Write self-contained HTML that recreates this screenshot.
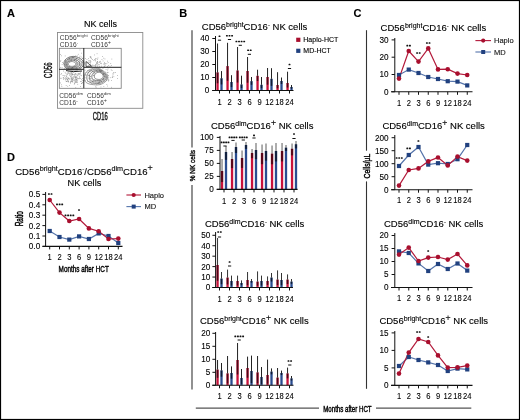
<!DOCTYPE html>
<html><head><meta charset="utf-8"><style>
html,body{margin:0;padding:0;background:#fff;}
svg{display:block;font-family:"Liberation Sans", sans-serif;will-change:transform;transform:translateZ(0);}
text{stroke:#000;stroke-width:0.12px;}
text.t{stroke-width:0.1px;}
</style></head><body>
<svg width="520" height="420" viewBox="0 0 520 420">
<rect width="520" height="420" fill="#fff"/>
<rect x="0.55" y="0.55" width="518.9" height="418.9" fill="none" stroke="#000" stroke-width="1.1"/>
<text x="7" y="16.5" font-size="11" text-anchor="start" font-weight="bold" fill="#000" >A</text>
<text x="179.3" y="16.5" font-size="11" text-anchor="start" font-weight="bold" fill="#000" >B</text>
<text x="353.5" y="16.5" font-size="11" text-anchor="start" font-weight="bold" fill="#000" >C</text>
<text x="7" y="161" font-size="11" text-anchor="start" font-weight="bold" fill="#000" >D</text>
<text x="84" y="27.2" font-size="9" text-anchor="start" font-weight="normal" fill="#000" >NK cells</text>
<rect x="57.5" y="32.5" width="85.3" height="75.8" fill="none" stroke="#8a8a8a" stroke-width="0.9"/>
<rect x="70.2" y="65.6" width="0.7" height="0.7" fill="#888"/>
<rect x="70.4" y="61.4" width="0.7" height="0.7" fill="#888"/>
<rect x="65.5" y="61.9" width="0.7" height="0.7" fill="#888"/>
<rect x="79.8" y="65.1" width="0.7" height="0.7" fill="#888"/>
<rect x="79.3" y="64.2" width="0.7" height="0.7" fill="#888"/>
<rect x="74.8" y="63.9" width="0.7" height="0.7" fill="#888"/>
<rect x="60.3" y="67.3" width="0.7" height="0.7" fill="#888"/>
<rect x="75.5" y="65.5" width="0.7" height="0.7" fill="#888"/>
<rect x="60.2" y="54.3" width="0.7" height="0.7" fill="#888"/>
<rect x="65.8" y="60.7" width="0.7" height="0.7" fill="#888"/>
<rect x="74.1" y="62.8" width="0.7" height="0.7" fill="#888"/>
<rect x="75.6" y="59.8" width="0.7" height="0.7" fill="#888"/>
<rect x="74.2" y="65.0" width="0.7" height="0.7" fill="#888"/>
<rect x="75.9" y="69.0" width="0.7" height="0.7" fill="#888"/>
<rect x="67.7" y="59.3" width="0.7" height="0.7" fill="#888"/>
<rect x="69.6" y="62.5" width="0.7" height="0.7" fill="#888"/>
<rect x="76.4" y="64.2" width="0.7" height="0.7" fill="#888"/>
<rect x="68.9" y="58.2" width="0.7" height="0.7" fill="#888"/>
<rect x="66.3" y="64.2" width="0.7" height="0.7" fill="#888"/>
<rect x="75.0" y="55.6" width="0.7" height="0.7" fill="#888"/>
<rect x="71.3" y="58.9" width="0.7" height="0.7" fill="#888"/>
<rect x="75.5" y="62.7" width="0.7" height="0.7" fill="#888"/>
<rect x="61.7" y="67.1" width="0.7" height="0.7" fill="#888"/>
<rect x="76.7" y="67.7" width="0.7" height="0.7" fill="#888"/>
<rect x="82.1" y="64.8" width="0.7" height="0.7" fill="#888"/>
<rect x="72.8" y="56.5" width="0.7" height="0.7" fill="#888"/>
<rect x="76.3" y="59.9" width="0.7" height="0.7" fill="#888"/>
<rect x="68.8" y="56.7" width="0.7" height="0.7" fill="#888"/>
<rect x="65.2" y="60.3" width="0.7" height="0.7" fill="#888"/>
<rect x="81.0" y="52.8" width="0.7" height="0.7" fill="#888"/>
<rect x="61.8" y="64.2" width="0.7" height="0.7" fill="#888"/>
<rect x="82.1" y="65.9" width="0.7" height="0.7" fill="#888"/>
<rect x="74.5" y="59.3" width="0.7" height="0.7" fill="#888"/>
<rect x="64.2" y="67.9" width="0.7" height="0.7" fill="#888"/>
<rect x="79.7" y="63.8" width="0.7" height="0.7" fill="#888"/>
<rect x="73.7" y="65.2" width="0.7" height="0.7" fill="#888"/>
<rect x="83.2" y="66.1" width="0.7" height="0.7" fill="#888"/>
<rect x="75.6" y="65.7" width="0.7" height="0.7" fill="#888"/>
<rect x="78.7" y="65.6" width="0.7" height="0.7" fill="#888"/>
<rect x="77.9" y="53.9" width="0.7" height="0.7" fill="#888"/>
<rect x="70.7" y="68.1" width="0.7" height="0.7" fill="#888"/>
<rect x="75.9" y="62.2" width="0.7" height="0.7" fill="#888"/>
<rect x="74.3" y="66.2" width="0.7" height="0.7" fill="#888"/>
<rect x="72.8" y="68.7" width="0.7" height="0.7" fill="#888"/>
<rect x="67.4" y="60.9" width="0.7" height="0.7" fill="#888"/>
<rect x="79.3" y="63.1" width="0.7" height="0.7" fill="#888"/>
<rect x="65.8" y="67.7" width="0.7" height="0.7" fill="#888"/>
<rect x="82.3" y="60.8" width="0.7" height="0.7" fill="#888"/>
<rect x="62.3" y="62.3" width="0.7" height="0.7" fill="#888"/>
<rect x="71.0" y="61.5" width="0.7" height="0.7" fill="#888"/>
<rect x="81.8" y="57.9" width="0.7" height="0.7" fill="#888"/>
<rect x="80.8" y="56.7" width="0.7" height="0.7" fill="#888"/>
<rect x="66.5" y="66.2" width="0.7" height="0.7" fill="#888"/>
<rect x="79.9" y="67.3" width="0.7" height="0.7" fill="#888"/>
<rect x="74.4" y="63.7" width="0.7" height="0.7" fill="#888"/>
<rect x="73.1" y="65.9" width="0.7" height="0.7" fill="#888"/>
<rect x="70.8" y="64.4" width="0.7" height="0.7" fill="#888"/>
<rect x="76.0" y="63.0" width="0.7" height="0.7" fill="#888"/>
<rect x="77.3" y="65.8" width="0.7" height="0.7" fill="#888"/>
<rect x="69.0" y="61.1" width="0.7" height="0.7" fill="#888"/>
<rect x="71.9" y="67.6" width="0.7" height="0.7" fill="#888"/>
<rect x="69.6" y="64.9" width="0.7" height="0.7" fill="#888"/>
<rect x="64.1" y="64.2" width="0.7" height="0.7" fill="#888"/>
<rect x="74.8" y="64.2" width="0.7" height="0.7" fill="#888"/>
<rect x="69.0" y="66.3" width="0.7" height="0.7" fill="#888"/>
<rect x="74.0" y="60.4" width="0.7" height="0.7" fill="#888"/>
<rect x="68.1" y="62.5" width="0.7" height="0.7" fill="#888"/>
<rect x="70.4" y="62.7" width="0.7" height="0.7" fill="#888"/>
<rect x="79.1" y="57.2" width="0.7" height="0.7" fill="#888"/>
<rect x="71.5" y="67.8" width="0.7" height="0.7" fill="#888"/>
<rect x="60.1" y="61.2" width="0.7" height="0.7" fill="#888"/>
<rect x="69.6" y="66.1" width="0.7" height="0.7" fill="#888"/>
<rect x="79.6" y="49.6" width="0.7" height="0.7" fill="#888"/>
<rect x="79.6" y="55.8" width="0.7" height="0.7" fill="#888"/>
<rect x="76.8" y="55.5" width="0.7" height="0.7" fill="#888"/>
<rect x="73.2" y="69.0" width="0.7" height="0.7" fill="#888"/>
<rect x="71.0" y="64.0" width="0.7" height="0.7" fill="#888"/>
<rect x="77.6" y="63.7" width="0.7" height="0.7" fill="#888"/>
<rect x="79.3" y="61.5" width="0.7" height="0.7" fill="#888"/>
<rect x="78.4" y="61.7" width="0.7" height="0.7" fill="#888"/>
<rect x="72.9" y="66.5" width="0.7" height="0.7" fill="#888"/>
<rect x="73.6" y="66.2" width="0.7" height="0.7" fill="#888"/>
<rect x="61.3" y="55.5" width="0.7" height="0.7" fill="#888"/>
<rect x="76.3" y="58.2" width="0.7" height="0.7" fill="#888"/>
<rect x="64.8" y="55.6" width="0.7" height="0.7" fill="#888"/>
<rect x="80.9" y="66.7" width="0.7" height="0.7" fill="#888"/>
<rect x="82.3" y="58.3" width="0.7" height="0.7" fill="#888"/>
<rect x="72.0" y="57.3" width="0.7" height="0.7" fill="#888"/>
<rect x="78.9" y="62.1" width="0.7" height="0.7" fill="#888"/>
<rect x="71.3" y="60.0" width="0.7" height="0.7" fill="#888"/>
<rect x="74.8" y="65.0" width="0.7" height="0.7" fill="#888"/>
<rect x="82.5" y="57.9" width="0.7" height="0.7" fill="#888"/>
<rect x="82.2" y="62.1" width="0.7" height="0.7" fill="#888"/>
<rect x="66.8" y="68.1" width="0.7" height="0.7" fill="#888"/>
<rect x="72.8" y="63.6" width="0.7" height="0.7" fill="#888"/>
<rect x="82.0" y="61.7" width="0.7" height="0.7" fill="#888"/>
<rect x="74.2" y="59.9" width="0.7" height="0.7" fill="#888"/>
<rect x="71.9" y="67.2" width="0.7" height="0.7" fill="#888"/>
<rect x="71.6" y="68.2" width="0.7" height="0.7" fill="#888"/>
<rect x="67.3" y="67.4" width="0.7" height="0.7" fill="#888"/>
<rect x="63.4" y="62.9" width="0.7" height="0.7" fill="#888"/>
<rect x="70.7" y="62.9" width="0.7" height="0.7" fill="#888"/>
<rect x="67.9" y="64.2" width="0.7" height="0.7" fill="#888"/>
<rect x="75.7" y="68.0" width="0.7" height="0.7" fill="#888"/>
<rect x="70.6" y="56.7" width="0.7" height="0.7" fill="#888"/>
<rect x="68.1" y="68.4" width="0.7" height="0.7" fill="#888"/>
<rect x="60.5" y="60.0" width="0.7" height="0.7" fill="#888"/>
<rect x="79.1" y="67.0" width="0.7" height="0.7" fill="#888"/>
<rect x="72.1" y="67.0" width="0.7" height="0.7" fill="#888"/>
<rect x="73.2" y="57.1" width="0.7" height="0.7" fill="#888"/>
<rect x="62.6" y="75.1" width="0.7" height="0.7" fill="#888"/>
<rect x="77.5" y="75.5" width="0.7" height="0.7" fill="#888"/>
<rect x="66.6" y="74.5" width="0.7" height="0.7" fill="#888"/>
<rect x="62.8" y="77.5" width="0.7" height="0.7" fill="#888"/>
<rect x="64.9" y="79.6" width="0.7" height="0.7" fill="#888"/>
<rect x="76.3" y="76.8" width="0.7" height="0.7" fill="#888"/>
<rect x="73.7" y="75.9" width="0.7" height="0.7" fill="#888"/>
<rect x="76.7" y="81.4" width="0.7" height="0.7" fill="#888"/>
<rect x="76.0" y="79.5" width="0.7" height="0.7" fill="#888"/>
<rect x="80.0" y="81.0" width="0.7" height="0.7" fill="#888"/>
<rect x="77.4" y="83.9" width="0.7" height="0.7" fill="#888"/>
<rect x="70.2" y="75.9" width="0.7" height="0.7" fill="#888"/>
<rect x="66.4" y="81.1" width="0.7" height="0.7" fill="#888"/>
<rect x="75.4" y="82.1" width="0.7" height="0.7" fill="#888"/>
<rect x="66.6" y="77.6" width="0.7" height="0.7" fill="#888"/>
<rect x="73.8" y="81.7" width="0.7" height="0.7" fill="#888"/>
<rect x="71.8" y="77.1" width="0.7" height="0.7" fill="#888"/>
<rect x="65.9" y="76.4" width="0.7" height="0.7" fill="#888"/>
<rect x="77.4" y="78.5" width="0.7" height="0.7" fill="#888"/>
<rect x="66.9" y="74.2" width="0.7" height="0.7" fill="#888"/>
<rect x="75.7" y="80.2" width="0.7" height="0.7" fill="#888"/>
<rect x="82.1" y="79.9" width="0.7" height="0.7" fill="#888"/>
<rect x="71.6" y="80.4" width="0.7" height="0.7" fill="#888"/>
<rect x="60.3" y="82.6" width="0.7" height="0.7" fill="#888"/>
<rect x="73.9" y="74.8" width="0.7" height="0.7" fill="#888"/>
<rect x="80.0" y="86.1" width="0.7" height="0.7" fill="#888"/>
<rect x="63.6" y="75.0" width="0.7" height="0.7" fill="#888"/>
<rect x="73.7" y="78.8" width="0.7" height="0.7" fill="#888"/>
<rect x="69.6" y="73.6" width="0.7" height="0.7" fill="#888"/>
<rect x="64.8" y="71.9" width="0.7" height="0.7" fill="#888"/>
<rect x="82.2" y="82.5" width="0.7" height="0.7" fill="#888"/>
<rect x="82.9" y="81.6" width="0.7" height="0.7" fill="#888"/>
<rect x="66.8" y="79.2" width="0.7" height="0.7" fill="#888"/>
<rect x="71.6" y="80.4" width="0.7" height="0.7" fill="#888"/>
<rect x="67.6" y="77.4" width="0.7" height="0.7" fill="#888"/>
<rect x="74.8" y="79.7" width="0.7" height="0.7" fill="#888"/>
<rect x="75.8" y="78.9" width="0.7" height="0.7" fill="#888"/>
<rect x="70.1" y="81.6" width="0.7" height="0.7" fill="#888"/>
<rect x="72.3" y="74.3" width="0.7" height="0.7" fill="#888"/>
<rect x="68.2" y="78.0" width="0.7" height="0.7" fill="#888"/>
<rect x="71.3" y="78.7" width="0.7" height="0.7" fill="#888"/>
<rect x="72.0" y="78.8" width="0.7" height="0.7" fill="#888"/>
<rect x="71.2" y="72.3" width="0.7" height="0.7" fill="#888"/>
<rect x="74.5" y="82.7" width="0.7" height="0.7" fill="#888"/>
<rect x="74.6" y="77.1" width="0.7" height="0.7" fill="#888"/>
<rect x="74.7" y="73.7" width="0.7" height="0.7" fill="#888"/>
<rect x="60.6" y="78.3" width="0.7" height="0.7" fill="#888"/>
<rect x="66.4" y="81.3" width="0.7" height="0.7" fill="#888"/>
<rect x="65.8" y="85.1" width="0.7" height="0.7" fill="#888"/>
<rect x="69.7" y="71.8" width="0.7" height="0.7" fill="#888"/>
<rect x="67.4" y="80.3" width="0.7" height="0.7" fill="#888"/>
<rect x="75.0" y="78.8" width="0.7" height="0.7" fill="#888"/>
<rect x="80.9" y="81.2" width="0.7" height="0.7" fill="#888"/>
<rect x="71.9" y="80.7" width="0.7" height="0.7" fill="#888"/>
<rect x="81.9" y="82.4" width="0.7" height="0.7" fill="#888"/>
<rect x="78.1" y="73.1" width="0.7" height="0.7" fill="#888"/>
<rect x="71.1" y="81.3" width="0.7" height="0.7" fill="#888"/>
<rect x="70.2" y="82.8" width="0.7" height="0.7" fill="#888"/>
<rect x="75.6" y="82.1" width="0.7" height="0.7" fill="#888"/>
<rect x="79.4" y="77.0" width="0.7" height="0.7" fill="#888"/>
<rect x="69.9" y="81.9" width="0.7" height="0.7" fill="#888"/>
<rect x="77.9" y="78.0" width="0.7" height="0.7" fill="#888"/>
<rect x="65.0" y="78.8" width="0.7" height="0.7" fill="#888"/>
<rect x="74.2" y="83.1" width="0.7" height="0.7" fill="#888"/>
<rect x="76.7" y="78.1" width="0.7" height="0.7" fill="#888"/>
<rect x="77.1" y="80.4" width="0.7" height="0.7" fill="#888"/>
<rect x="73.2" y="78.2" width="0.7" height="0.7" fill="#888"/>
<rect x="70.5" y="81.1" width="0.7" height="0.7" fill="#888"/>
<rect x="65.7" y="75.2" width="0.7" height="0.7" fill="#888"/>
<rect x="72.0" y="71.4" width="0.7" height="0.7" fill="#888"/>
<rect x="67.9" y="80.6" width="0.7" height="0.7" fill="#888"/>
<rect x="75.4" y="77.8" width="0.7" height="0.7" fill="#888"/>
<rect x="70.6" y="71.6" width="0.7" height="0.7" fill="#888"/>
<rect x="83.0" y="80.3" width="0.7" height="0.7" fill="#888"/>
<rect x="78.6" y="74.0" width="0.7" height="0.7" fill="#888"/>
<rect x="76.7" y="82.2" width="0.7" height="0.7" fill="#888"/>
<rect x="60.6" y="77.8" width="0.7" height="0.7" fill="#888"/>
<rect x="75.8" y="70.1" width="0.7" height="0.7" fill="#888"/>
<rect x="61.0" y="73.2" width="0.7" height="0.7" fill="#888"/>
<rect x="68.2" y="71.7" width="0.7" height="0.7" fill="#888"/>
<rect x="72.2" y="79.1" width="0.7" height="0.7" fill="#888"/>
<rect x="75.8" y="81.2" width="0.7" height="0.7" fill="#888"/>
<rect x="81.0" y="83.2" width="0.7" height="0.7" fill="#888"/>
<rect x="64.1" y="75.7" width="0.7" height="0.7" fill="#888"/>
<rect x="65.6" y="73.2" width="0.7" height="0.7" fill="#888"/>
<rect x="71.5" y="78.0" width="0.7" height="0.7" fill="#888"/>
<rect x="74.9" y="70.9" width="0.7" height="0.7" fill="#888"/>
<rect x="64.6" y="77.9" width="0.7" height="0.7" fill="#888"/>
<rect x="70.8" y="76.6" width="0.7" height="0.7" fill="#888"/>
<rect x="71.6" y="74.6" width="0.7" height="0.7" fill="#888"/>
<rect x="76.2" y="79.6" width="0.7" height="0.7" fill="#888"/>
<rect x="71.5" y="75.0" width="0.7" height="0.7" fill="#888"/>
<rect x="66.1" y="78.2" width="0.7" height="0.7" fill="#888"/>
<rect x="63.0" y="78.9" width="0.7" height="0.7" fill="#888"/>
<rect x="72.9" y="71.8" width="0.7" height="0.7" fill="#888"/>
<rect x="70.5" y="76.6" width="0.7" height="0.7" fill="#888"/>
<rect x="74.8" y="80.8" width="0.7" height="0.7" fill="#888"/>
<rect x="71.8" y="74.2" width="0.7" height="0.7" fill="#888"/>
<rect x="71.1" y="77.7" width="0.7" height="0.7" fill="#888"/>
<rect x="76.4" y="79.3" width="0.7" height="0.7" fill="#888"/>
<rect x="67.7" y="71.9" width="0.7" height="0.7" fill="#888"/>
<rect x="69.8" y="74.7" width="0.7" height="0.7" fill="#888"/>
<rect x="65.3" y="77.5" width="0.7" height="0.7" fill="#888"/>
<rect x="69.1" y="78.5" width="0.7" height="0.7" fill="#888"/>
<rect x="75.1" y="76.1" width="0.7" height="0.7" fill="#888"/>
<rect x="78.6" y="78.5" width="0.7" height="0.7" fill="#888"/>
<rect x="67.5" y="79.1" width="0.7" height="0.7" fill="#888"/>
<rect x="73.9" y="83.8" width="0.7" height="0.7" fill="#888"/>
<rect x="76.6" y="82.3" width="0.7" height="0.7" fill="#888"/>
<rect x="75.1" y="77.3" width="0.7" height="0.7" fill="#888"/>
<rect x="75.1" y="73.1" width="0.7" height="0.7" fill="#888"/>
<rect x="79.1" y="73.4" width="0.7" height="0.7" fill="#888"/>
<rect x="70.7" y="78.1" width="0.7" height="0.7" fill="#888"/>
<rect x="79.0" y="78.1" width="0.7" height="0.7" fill="#888"/>
<rect x="67.2" y="79.2" width="0.7" height="0.7" fill="#888"/>
<rect x="75.5" y="81.2" width="0.7" height="0.7" fill="#888"/>
<rect x="67.4" y="85.9" width="0.7" height="0.7" fill="#888"/>
<rect x="82.0" y="78.1" width="0.7" height="0.7" fill="#888"/>
<rect x="73.6" y="76.1" width="0.7" height="0.7" fill="#888"/>
<rect x="80.5" y="74.8" width="0.7" height="0.7" fill="#888"/>
<rect x="76.0" y="75.8" width="0.7" height="0.7" fill="#888"/>
<rect x="67.8" y="81.2" width="0.7" height="0.7" fill="#888"/>
<rect x="80.0" y="78.0" width="0.7" height="0.7" fill="#888"/>
<rect x="67.9" y="81.7" width="0.7" height="0.7" fill="#888"/>
<rect x="71.7" y="79.4" width="0.7" height="0.7" fill="#888"/>
<rect x="81.1" y="83.1" width="0.7" height="0.7" fill="#888"/>
<rect x="72.0" y="81.5" width="0.7" height="0.7" fill="#888"/>
<rect x="68.1" y="77.8" width="0.7" height="0.7" fill="#888"/>
<rect x="61.5" y="86.0" width="0.7" height="0.7" fill="#888"/>
<rect x="80.2" y="72.5" width="0.7" height="0.7" fill="#888"/>
<rect x="63.0" y="70.7" width="0.7" height="0.7" fill="#888"/>
<rect x="79.1" y="75.9" width="0.7" height="0.7" fill="#888"/>
<rect x="71.6" y="76.6" width="0.7" height="0.7" fill="#888"/>
<rect x="71.3" y="73.1" width="0.7" height="0.7" fill="#888"/>
<rect x="72.1" y="71.5" width="0.7" height="0.7" fill="#888"/>
<rect x="71.6" y="79.4" width="0.7" height="0.7" fill="#888"/>
<rect x="74.8" y="77.0" width="0.7" height="0.7" fill="#888"/>
<rect x="66.6" y="78.7" width="0.7" height="0.7" fill="#888"/>
<rect x="69.1" y="85.0" width="0.7" height="0.7" fill="#888"/>
<rect x="76.6" y="77.5" width="0.7" height="0.7" fill="#888"/>
<rect x="69.2" y="74.8" width="0.7" height="0.7" fill="#888"/>
<rect x="66.4" y="76.4" width="0.7" height="0.7" fill="#888"/>
<rect x="73.8" y="80.3" width="0.7" height="0.7" fill="#888"/>
<rect x="75.4" y="87.4" width="0.7" height="0.7" fill="#888"/>
<rect x="67.8" y="78.1" width="0.7" height="0.7" fill="#888"/>
<rect x="68.9" y="78.8" width="0.7" height="0.7" fill="#888"/>
<rect x="72.9" y="79.8" width="0.7" height="0.7" fill="#888"/>
<rect x="70.6" y="79.6" width="0.7" height="0.7" fill="#888"/>
<rect x="72.3" y="81.5" width="0.7" height="0.7" fill="#888"/>
<rect x="60.6" y="74.0" width="0.7" height="0.7" fill="#888"/>
<rect x="72.0" y="73.4" width="0.7" height="0.7" fill="#888"/>
<rect x="65.7" y="80.8" width="0.7" height="0.7" fill="#888"/>
<rect x="68.1" y="80.9" width="0.7" height="0.7" fill="#888"/>
<rect x="76.5" y="79.4" width="0.7" height="0.7" fill="#888"/>
<rect x="75.0" y="77.5" width="0.7" height="0.7" fill="#888"/>
<rect x="63.5" y="77.9" width="0.7" height="0.7" fill="#888"/>
<rect x="74.7" y="75.6" width="0.7" height="0.7" fill="#888"/>
<rect x="71.4" y="81.4" width="0.7" height="0.7" fill="#888"/>
<rect x="66.7" y="80.9" width="0.7" height="0.7" fill="#888"/>
<rect x="83.2" y="75.5" width="0.7" height="0.7" fill="#888"/>
<rect x="72.9" y="77.3" width="0.7" height="0.7" fill="#888"/>
<rect x="81.2" y="79.4" width="0.7" height="0.7" fill="#888"/>
<rect x="77.4" y="74.9" width="0.7" height="0.7" fill="#888"/>
<rect x="71.9" y="78.0" width="0.7" height="0.7" fill="#888"/>
<rect x="61.3" y="84.5" width="0.7" height="0.7" fill="#888"/>
<rect x="77.4" y="70.1" width="0.7" height="0.7" fill="#888"/>
<rect x="76.5" y="77.4" width="0.7" height="0.7" fill="#888"/>
<rect x="74.7" y="79.6" width="0.7" height="0.7" fill="#888"/>
<rect x="63.0" y="77.0" width="0.7" height="0.7" fill="#888"/>
<rect x="81.0" y="75.4" width="0.7" height="0.7" fill="#888"/>
<rect x="117.3" y="78.0" width="0.7" height="0.7" fill="#888"/>
<rect x="90.8" y="70.3" width="0.7" height="0.7" fill="#888"/>
<rect x="103.3" y="78.8" width="0.7" height="0.7" fill="#888"/>
<rect x="100.5" y="76.7" width="0.7" height="0.7" fill="#888"/>
<rect x="90.5" y="78.2" width="0.7" height="0.7" fill="#888"/>
<rect x="95.6" y="74.4" width="0.7" height="0.7" fill="#888"/>
<rect x="92.8" y="82.4" width="0.7" height="0.7" fill="#888"/>
<rect x="113.7" y="72.4" width="0.7" height="0.7" fill="#888"/>
<rect x="107.2" y="69.7" width="0.7" height="0.7" fill="#888"/>
<rect x="97.9" y="80.2" width="0.7" height="0.7" fill="#888"/>
<rect x="115.2" y="72.3" width="0.7" height="0.7" fill="#888"/>
<rect x="96.1" y="76.4" width="0.7" height="0.7" fill="#888"/>
<rect x="88.9" y="77.6" width="0.7" height="0.7" fill="#888"/>
<rect x="97.5" y="76.8" width="0.7" height="0.7" fill="#888"/>
<rect x="90.4" y="81.2" width="0.7" height="0.7" fill="#888"/>
<rect x="93.7" y="70.8" width="0.7" height="0.7" fill="#888"/>
<rect x="88.9" y="74.9" width="0.7" height="0.7" fill="#888"/>
<rect x="107.2" y="73.9" width="0.7" height="0.7" fill="#888"/>
<rect x="100.7" y="70.4" width="0.7" height="0.7" fill="#888"/>
<rect x="100.6" y="86.6" width="0.7" height="0.7" fill="#888"/>
<rect x="89.3" y="75.1" width="0.7" height="0.7" fill="#888"/>
<rect x="99.1" y="82.2" width="0.7" height="0.7" fill="#888"/>
<rect x="104.3" y="80.6" width="0.7" height="0.7" fill="#888"/>
<rect x="99.5" y="76.8" width="0.7" height="0.7" fill="#888"/>
<rect x="108.2" y="77.6" width="0.7" height="0.7" fill="#888"/>
<rect x="106.7" y="72.4" width="0.7" height="0.7" fill="#888"/>
<rect x="96.9" y="73.2" width="0.7" height="0.7" fill="#888"/>
<rect x="91.0" y="69.1" width="0.7" height="0.7" fill="#888"/>
<rect x="89.4" y="79.5" width="0.7" height="0.7" fill="#888"/>
<rect x="97.4" y="75.5" width="0.7" height="0.7" fill="#888"/>
<rect x="94.9" y="81.4" width="0.7" height="0.7" fill="#888"/>
<rect x="102.9" y="74.0" width="0.7" height="0.7" fill="#888"/>
<rect x="105.0" y="73.9" width="0.7" height="0.7" fill="#888"/>
<rect x="102.6" y="68.3" width="0.7" height="0.7" fill="#888"/>
<rect x="109.9" y="77.4" width="0.7" height="0.7" fill="#888"/>
<rect x="101.0" y="81.2" width="0.7" height="0.7" fill="#888"/>
<rect x="99.4" y="74.0" width="0.7" height="0.7" fill="#888"/>
<rect x="97.4" y="73.0" width="0.7" height="0.7" fill="#888"/>
<rect x="101.2" y="75.5" width="0.7" height="0.7" fill="#888"/>
<rect x="105.1" y="72.4" width="0.7" height="0.7" fill="#888"/>
<rect x="91.9" y="79.7" width="0.7" height="0.7" fill="#888"/>
<rect x="113.0" y="72.5" width="0.7" height="0.7" fill="#888"/>
<rect x="95.5" y="86.1" width="0.7" height="0.7" fill="#888"/>
<rect x="93.1" y="80.1" width="0.7" height="0.7" fill="#888"/>
<rect x="117.1" y="75.3" width="0.7" height="0.7" fill="#888"/>
<rect x="111.7" y="70.0" width="0.7" height="0.7" fill="#888"/>
<rect x="99.5" y="74.5" width="0.7" height="0.7" fill="#888"/>
<rect x="98.4" y="82.9" width="0.7" height="0.7" fill="#888"/>
<rect x="90.1" y="78.5" width="0.7" height="0.7" fill="#888"/>
<rect x="103.9" y="73.1" width="0.7" height="0.7" fill="#888"/>
<rect x="88.6" y="71.1" width="0.7" height="0.7" fill="#888"/>
<rect x="92.2" y="81.0" width="0.7" height="0.7" fill="#888"/>
<rect x="98.0" y="72.2" width="0.7" height="0.7" fill="#888"/>
<rect x="103.5" y="86.1" width="0.7" height="0.7" fill="#888"/>
<rect x="97.1" y="77.6" width="0.7" height="0.7" fill="#888"/>
<rect x="111.9" y="76.9" width="0.7" height="0.7" fill="#888"/>
<rect x="96.5" y="77.9" width="0.7" height="0.7" fill="#888"/>
<rect x="108.6" y="79.7" width="0.7" height="0.7" fill="#888"/>
<rect x="98.2" y="82.2" width="0.7" height="0.7" fill="#888"/>
<rect x="93.9" y="71.9" width="0.7" height="0.7" fill="#888"/>
<rect x="102.4" y="70.1" width="0.7" height="0.7" fill="#888"/>
<rect x="86.4" y="72.2" width="0.7" height="0.7" fill="#888"/>
<rect x="96.4" y="70.3" width="0.7" height="0.7" fill="#888"/>
<rect x="97.1" y="80.3" width="0.7" height="0.7" fill="#888"/>
<rect x="111.2" y="86.9" width="0.7" height="0.7" fill="#888"/>
<rect x="87.6" y="72.1" width="0.7" height="0.7" fill="#888"/>
<rect x="88.3" y="74.8" width="0.7" height="0.7" fill="#888"/>
<rect x="102.6" y="74.8" width="0.7" height="0.7" fill="#888"/>
<rect x="106.7" y="76.5" width="0.7" height="0.7" fill="#888"/>
<rect x="102.7" y="78.1" width="0.7" height="0.7" fill="#888"/>
<rect x="112.6" y="73.4" width="0.7" height="0.7" fill="#888"/>
<rect x="107.5" y="72.1" width="0.7" height="0.7" fill="#888"/>
<rect x="105.7" y="69.3" width="0.7" height="0.7" fill="#888"/>
<rect x="95.7" y="87.1" width="0.7" height="0.7" fill="#888"/>
<rect x="102.3" y="73.9" width="0.7" height="0.7" fill="#888"/>
<rect x="99.3" y="81.6" width="0.7" height="0.7" fill="#888"/>
<rect x="102.1" y="78.7" width="0.7" height="0.7" fill="#888"/>
<rect x="96.5" y="84.5" width="0.7" height="0.7" fill="#888"/>
<rect x="92.3" y="71.2" width="0.7" height="0.7" fill="#888"/>
<rect x="107.7" y="75.4" width="0.7" height="0.7" fill="#888"/>
<rect x="93.7" y="71.0" width="0.7" height="0.7" fill="#888"/>
<rect x="93.9" y="79.4" width="0.7" height="0.7" fill="#888"/>
<rect x="102.1" y="76.3" width="0.7" height="0.7" fill="#888"/>
<rect x="85.0" y="80.4" width="0.7" height="0.7" fill="#888"/>
<rect x="93.6" y="72.7" width="0.7" height="0.7" fill="#888"/>
<rect x="106.5" y="84.2" width="0.7" height="0.7" fill="#888"/>
<rect x="88.7" y="78.1" width="0.7" height="0.7" fill="#888"/>
<rect x="91.1" y="83.4" width="0.7" height="0.7" fill="#888"/>
<rect x="89.2" y="80.7" width="0.7" height="0.7" fill="#888"/>
<rect x="91.8" y="78.5" width="0.7" height="0.7" fill="#888"/>
<rect x="95.9" y="70.3" width="0.7" height="0.7" fill="#888"/>
<rect x="90.1" y="76.0" width="0.7" height="0.7" fill="#888"/>
<rect x="112.1" y="75.8" width="0.7" height="0.7" fill="#888"/>
<rect x="111.2" y="80.2" width="0.7" height="0.7" fill="#888"/>
<rect x="87.2" y="81.0" width="0.7" height="0.7" fill="#888"/>
<rect x="103.0" y="79.5" width="0.7" height="0.7" fill="#888"/>
<rect x="107.8" y="80.1" width="0.7" height="0.7" fill="#888"/>
<rect x="99.0" y="78.4" width="0.7" height="0.7" fill="#888"/>
<rect x="93.0" y="75.3" width="0.7" height="0.7" fill="#888"/>
<rect x="107.6" y="71.9" width="0.7" height="0.7" fill="#888"/>
<rect x="110.8" y="69.5" width="0.7" height="0.7" fill="#888"/>
<rect x="100.2" y="71.3" width="0.7" height="0.7" fill="#888"/>
<rect x="98.9" y="70.2" width="0.7" height="0.7" fill="#888"/>
<rect x="100.6" y="71.1" width="0.7" height="0.7" fill="#888"/>
<rect x="99.4" y="81.9" width="0.7" height="0.7" fill="#888"/>
<rect x="85.3" y="74.2" width="0.7" height="0.7" fill="#888"/>
<rect x="103.5" y="78.7" width="0.7" height="0.7" fill="#888"/>
<rect x="111.9" y="77.3" width="0.7" height="0.7" fill="#888"/>
<rect x="97.2" y="73.1" width="0.7" height="0.7" fill="#888"/>
<rect x="100.2" y="72.0" width="0.7" height="0.7" fill="#888"/>
<rect x="84.7" y="69.8" width="0.7" height="0.7" fill="#888"/>
<rect x="89.8" y="70.7" width="0.7" height="0.7" fill="#888"/>
<rect x="84.8" y="77.5" width="0.7" height="0.7" fill="#888"/>
<rect x="113.5" y="76.4" width="0.7" height="0.7" fill="#888"/>
<rect x="88.2" y="75.3" width="0.7" height="0.7" fill="#888"/>
<rect x="89.7" y="76.1" width="0.7" height="0.7" fill="#888"/>
<rect x="91.4" y="75.6" width="0.7" height="0.7" fill="#888"/>
<rect x="105.8" y="80.4" width="0.7" height="0.7" fill="#888"/>
<rect x="107.9" y="79.1" width="0.7" height="0.7" fill="#888"/>
<rect x="93.5" y="74.9" width="0.7" height="0.7" fill="#888"/>
<rect x="93.7" y="72.8" width="0.7" height="0.7" fill="#888"/>
<rect x="93.0" y="74.8" width="0.7" height="0.7" fill="#888"/>
<rect x="85.3" y="74.8" width="0.7" height="0.7" fill="#888"/>
<rect x="103.2" y="73.8" width="0.7" height="0.7" fill="#888"/>
<rect x="103.2" y="72.9" width="0.7" height="0.7" fill="#888"/>
<rect x="107.2" y="77.6" width="0.7" height="0.7" fill="#888"/>
<rect x="97.3" y="70.9" width="0.7" height="0.7" fill="#888"/>
<rect x="104.7" y="71.6" width="0.7" height="0.7" fill="#888"/>
<rect x="99.7" y="71.4" width="0.7" height="0.7" fill="#888"/>
<rect x="99.4" y="80.3" width="0.7" height="0.7" fill="#888"/>
<rect x="86.5" y="74.8" width="0.7" height="0.7" fill="#888"/>
<rect x="104.4" y="76.0" width="0.7" height="0.7" fill="#888"/>
<rect x="107.3" y="85.7" width="0.7" height="0.7" fill="#888"/>
<rect x="108.1" y="80.7" width="0.7" height="0.7" fill="#888"/>
<rect x="89.6" y="70.0" width="0.7" height="0.7" fill="#888"/>
<rect x="107.7" y="68.6" width="0.7" height="0.7" fill="#888"/>
<rect x="88.8" y="69.9" width="0.7" height="0.7" fill="#888"/>
<rect x="99.8" y="69.8" width="0.7" height="0.7" fill="#888"/>
<rect x="112.7" y="74.5" width="0.7" height="0.7" fill="#888"/>
<rect x="90.0" y="76.5" width="0.7" height="0.7" fill="#888"/>
<rect x="96.8" y="72.8" width="0.7" height="0.7" fill="#888"/>
<rect x="100.9" y="70.2" width="0.7" height="0.7" fill="#888"/>
<rect x="96.7" y="75.4" width="0.7" height="0.7" fill="#888"/>
<rect x="103.7" y="75.8" width="0.7" height="0.7" fill="#888"/>
<rect x="87.5" y="70.0" width="0.7" height="0.7" fill="#888"/>
<rect x="102.8" y="78.7" width="0.7" height="0.7" fill="#888"/>
<rect x="95.5" y="73.8" width="0.7" height="0.7" fill="#888"/>
<rect x="108.2" y="75.1" width="0.7" height="0.7" fill="#888"/>
<rect x="105.9" y="79.1" width="0.7" height="0.7" fill="#888"/>
<rect x="99.6" y="84.1" width="0.7" height="0.7" fill="#888"/>
<rect x="90.4" y="61.7" width="0.7" height="0.7" fill="#888"/>
<rect x="88.5" y="60.2" width="0.7" height="0.7" fill="#888"/>
<rect x="95.2" y="65.0" width="0.7" height="0.7" fill="#888"/>
<rect x="104.4" y="65.8" width="0.7" height="0.7" fill="#888"/>
<rect x="104.6" y="58.6" width="0.7" height="0.7" fill="#888"/>
<rect x="89.9" y="64.6" width="0.7" height="0.7" fill="#888"/>
<rect x="106.5" y="63.4" width="0.7" height="0.7" fill="#888"/>
<rect x="88.1" y="61.8" width="0.7" height="0.7" fill="#888"/>
<rect x="89.7" y="60.0" width="0.7" height="0.7" fill="#888"/>
<rect x="107.0" y="60.8" width="0.7" height="0.7" fill="#888"/>
<rect x="104.5" y="64.2" width="0.7" height="0.7" fill="#888"/>
<rect x="90.1" y="64.4" width="0.7" height="0.7" fill="#888"/>
<rect x="108.0" y="65.2" width="0.7" height="0.7" fill="#888"/>
<rect x="105.1" y="63.3" width="0.7" height="0.7" fill="#888"/>
<rect x="99.1" y="62.3" width="0.7" height="0.7" fill="#888"/>
<rect x="96.9" y="61.0" width="0.7" height="0.7" fill="#888"/>
<rect x="92.5" y="65.8" width="0.7" height="0.7" fill="#888"/>
<rect x="111.0" y="65.2" width="0.7" height="0.7" fill="#888"/>
<rect x="97.6" y="57.6" width="0.7" height="0.7" fill="#888"/>
<rect x="110.4" y="63.3" width="0.7" height="0.7" fill="#888"/>
<rect x="94.7" y="59.1" width="0.7" height="0.7" fill="#888"/>
<rect x="94.5" y="59.2" width="0.7" height="0.7" fill="#888"/>
<rect x="95.6" y="64.6" width="0.7" height="0.7" fill="#888"/>
<rect x="95.2" y="64.0" width="0.7" height="0.7" fill="#888"/>
<rect x="89.8" y="56.6" width="0.7" height="0.7" fill="#888"/>
<rect x="93.5" y="60.3" width="0.7" height="0.7" fill="#888"/>
<rect x="86.9" y="61.8" width="0.7" height="0.7" fill="#888"/>
<rect x="97.3" y="58.9" width="0.7" height="0.7" fill="#888"/>
<rect x="100.5" y="62.5" width="0.7" height="0.7" fill="#888"/>
<rect x="96.0" y="62.6" width="0.7" height="0.7" fill="#888"/>
<rect x="94.6" y="65.6" width="0.7" height="0.7" fill="#888"/>
<rect x="94.3" y="54.6" width="0.7" height="0.7" fill="#888"/>
<rect x="94.8" y="59.9" width="0.7" height="0.7" fill="#888"/>
<rect x="100.2" y="60.9" width="0.7" height="0.7" fill="#888"/>
<rect x="86.6" y="59.1" width="0.7" height="0.7" fill="#888"/>
<rect x="89.9" y="56.5" width="0.7" height="0.7" fill="#888"/>
<rect x="88.8" y="61.7" width="0.7" height="0.7" fill="#888"/>
<rect x="96.1" y="63.6" width="0.7" height="0.7" fill="#888"/>
<rect x="92.5" y="64.6" width="0.7" height="0.7" fill="#888"/>
<rect x="97.3" y="63.2" width="0.7" height="0.7" fill="#888"/>
<rect x="91.0" y="58.4" width="0.7" height="0.7" fill="#888"/>
<rect x="90.7" y="57.6" width="0.7" height="0.7" fill="#888"/>
<rect x="104.8" y="64.9" width="0.7" height="0.7" fill="#888"/>
<rect x="102.1" y="56.3" width="0.7" height="0.7" fill="#888"/>
<rect x="109.7" y="65.8" width="0.7" height="0.7" fill="#888"/>
<rect x="111.5" y="58.7" width="0.7" height="0.7" fill="#888"/>
<rect x="99.2" y="64.5" width="0.7" height="0.7" fill="#888"/>
<rect x="96.6" y="63.6" width="0.7" height="0.7" fill="#888"/>
<rect x="103.4" y="57.8" width="0.7" height="0.7" fill="#888"/>
<rect x="85.1" y="58.1" width="0.7" height="0.7" fill="#888"/>
<rect x="90.5" y="60.9" width="0.7" height="0.7" fill="#888"/>
<rect x="97.9" y="63.9" width="0.7" height="0.7" fill="#888"/>
<rect x="95.3" y="60.6" width="0.7" height="0.7" fill="#888"/>
<rect x="91.5" y="66.3" width="0.7" height="0.7" fill="#888"/>
<rect x="101.1" y="63.4" width="0.7" height="0.7" fill="#888"/>
<rect x="90.2" y="65.3" width="0.7" height="0.7" fill="#888"/>
<rect x="104.2" y="62.1" width="0.7" height="0.7" fill="#888"/>
<rect x="101.6" y="59.1" width="0.7" height="0.7" fill="#888"/>
<rect x="103.1" y="63.7" width="0.7" height="0.7" fill="#888"/>
<rect x="89.6" y="62.4" width="0.7" height="0.7" fill="#888"/>
<rect x="97.3" y="61.8" width="0.7" height="0.7" fill="#888"/>
<rect x="97.1" y="61.1" width="0.7" height="0.7" fill="#888"/>
<rect x="100.4" y="63.0" width="0.7" height="0.7" fill="#888"/>
<rect x="96.7" y="53.4" width="0.7" height="0.7" fill="#888"/>
<rect x="104.3" y="63.1" width="0.7" height="0.7" fill="#888"/>
<rect x="93.8" y="65.4" width="0.7" height="0.7" fill="#888"/>
<rect x="92.1" y="59.1" width="0.7" height="0.7" fill="#888"/>
<rect x="103.8" y="66.2" width="0.7" height="0.7" fill="#888"/>
<rect x="107.3" y="66.0" width="0.7" height="0.7" fill="#888"/>
<rect x="90.4" y="57.2" width="0.7" height="0.7" fill="#888"/>
<rect x="89.8" y="60.6" width="0.7" height="0.7" fill="#888"/>
<rect x="88.5" y="65.0" width="0.7" height="0.7" fill="#888"/>
<rect x="97.6" y="62.1" width="0.7" height="0.7" fill="#888"/>
<rect x="96.4" y="62.5" width="0.7" height="0.7" fill="#888"/>
<rect x="96.7" y="65.6" width="0.7" height="0.7" fill="#888"/>
<rect x="102.7" y="60.6" width="0.7" height="0.7" fill="#888"/>
<rect x="95.2" y="58.0" width="0.7" height="0.7" fill="#888"/>
<rect x="90.9" y="65.5" width="0.7" height="0.7" fill="#888"/>
<rect x="88.1" y="58.1" width="0.7" height="0.7" fill="#888"/>
<rect x="99.2" y="66.3" width="0.7" height="0.7" fill="#888"/>
<rect x="96.5" y="58.4" width="0.7" height="0.7" fill="#888"/>
<rect x="101.3" y="65.8" width="0.7" height="0.7" fill="#888"/>
<rect x="99.4" y="61.3" width="0.7" height="0.7" fill="#888"/>
<rect x="97.4" y="65.8" width="0.7" height="0.7" fill="#888"/>
<rect x="90.5" y="56.5" width="0.7" height="0.7" fill="#888"/>
<rect x="97.6" y="64.7" width="0.7" height="0.7" fill="#888"/>
<rect x="95.1" y="66.1" width="0.7" height="0.7" fill="#888"/>
<rect x="90.3" y="62.7" width="0.7" height="0.7" fill="#888"/>
<rect x="92.6" y="65.0" width="0.7" height="0.7" fill="#888"/>
<rect x="107.8" y="62.1" width="0.7" height="0.7" fill="#888"/>
<polygon points="84.03,63.40 83.80,64.61 83.22,65.76 82.39,66.81 81.35,67.76 80.10,68.58 78.65,69.23 77.05,69.66 75.39,69.91 73.70,70.00 71.99,69.99 70.25,69.84 68.54,69.48 66.99,68.84 65.74,67.94 64.89,66.86 64.39,65.70 64.13,64.55 64.03,63.40 64.10,62.25 64.42,61.10 65.06,60.01 66.03,59.02 67.24,58.17 68.65,57.45 70.21,56.88 71.91,56.51 73.70,56.40 75.46,56.60 77.09,57.06 78.54,57.70 79.84,58.42 81.06,59.20 82.21,60.06 83.19,61.05 83.83,62.19" fill="none" stroke="#444" stroke-width="0.7"/>
<polygon points="82.01,63.55 81.81,64.57 81.32,65.52 80.61,66.41 79.74,67.21 78.68,67.90 77.46,68.44 76.11,68.80 74.70,69.00 73.28,69.09 71.83,69.08 70.36,68.95 68.91,68.64 67.60,68.11 66.55,67.36 65.83,66.45 65.41,65.48 65.19,64.51 65.11,63.55 65.17,62.59 65.44,61.63 65.98,60.71 66.79,59.88 67.82,59.16 69.01,58.56 70.33,58.09 71.77,57.78 73.28,57.69 74.77,57.85 76.14,58.24 77.36,58.77 78.46,59.38 79.50,60.03 80.47,60.75 81.29,61.58 81.83,62.53" fill="none" stroke="#444" stroke-width="0.7"/>
<polygon points="79.98,63.70 79.82,64.52 79.42,65.29 78.84,66.01 78.13,66.65 77.26,67.21 76.26,67.64 75.16,67.94 74.01,68.10 72.85,68.17 71.67,68.16 70.47,68.06 69.29,67.81 68.22,67.38 67.36,66.77 66.77,66.04 66.43,65.26 66.25,64.48 66.18,63.70 66.23,62.92 66.45,62.15 66.89,61.41 67.55,60.74 68.39,60.16 69.36,59.68 70.44,59.29 71.62,59.04 72.85,58.97 74.07,59.10 75.19,59.41 76.19,59.84 77.09,60.33 77.93,60.86 78.72,61.44 79.40,62.11 79.84,62.88" fill="none" stroke="#444" stroke-width="0.7"/>
<polygon points="77.95,63.85 77.83,64.47 77.52,65.06 77.07,65.61 76.52,66.10 75.85,66.52 75.07,66.85 74.22,67.07 73.33,67.20 72.42,67.25 71.51,67.24 70.58,67.17 69.66,66.98 68.83,66.65 68.17,66.19 67.71,65.63 67.45,65.04 67.31,64.44 67.25,63.85 67.29,63.26 67.46,62.67 67.81,62.11 68.32,61.60 68.97,61.16 69.72,60.79 70.56,60.50 71.47,60.30 72.42,60.25 73.37,60.35 74.24,60.59 75.01,60.92 75.71,61.29 76.37,61.69 76.98,62.13 77.50,62.64 77.84,63.22" fill="none" stroke="#444" stroke-width="0.7"/>
<polygon points="75.93,64.00 75.84,64.43 75.62,64.83 75.30,65.20 74.91,65.54 74.43,65.83 73.88,66.06 73.27,66.21 72.64,66.30 72.00,66.33 71.35,66.33 70.69,66.27 70.04,66.15 69.45,65.92 68.98,65.60 68.65,65.22 68.46,64.81 68.36,64.40 68.33,64.00 68.35,63.59 68.47,63.19 68.72,62.80 69.08,62.45 69.55,62.15 70.08,61.90 70.67,61.70 71.32,61.57 72.00,61.53 72.67,61.60 73.29,61.76 73.84,61.99 74.33,62.24 74.80,62.52 75.24,62.82 75.61,63.17 75.85,63.57" fill="#fff" stroke="#666" stroke-width="0.7"/>
<path d="M66,70.6 Q73,72.5 82,71" fill="none" stroke="#222" stroke-width="1.0"/>
<path d="M67,73.2 Q73,75.5 81,73.8" fill="none" stroke="#888" stroke-width="0.5"/>
<path d="M86,61.5 L91.5,66.2 L86,66.4 Z" fill="none" stroke="#333" stroke-width="0.8"/>
<polygon points="107.76,76.80 107.65,78.31 107.02,79.76 106.02,81.08 104.76,82.26 103.28,83.29 101.57,84.10 99.66,84.62 97.67,84.84 95.70,84.83 93.76,84.70 91.81,84.48 89.81,84.13 87.87,83.50 86.21,82.52 85.04,81.22 84.43,79.74 84.27,78.25 84.36,76.80 84.61,75.40 85.03,74.01 85.76,72.68 86.84,71.46 88.24,70.42 89.87,69.55 91.66,68.83 93.61,68.29 95.70,68.03 97.82,68.15 99.81,68.70 101.51,69.58 102.91,70.63 104.13,71.72 105.31,72.82 106.42,74.00 107.31,75.33" fill="none" stroke="#777" stroke-width="0.7"/>
<polygon points="106.63,76.60 106.54,77.90 106.01,79.14 105.16,80.27 104.10,81.28 102.85,82.16 101.40,82.85 99.80,83.30 98.12,83.49 96.45,83.48 94.81,83.37 93.16,83.19 91.48,82.88 89.84,82.34 88.44,81.50 87.45,80.39 86.94,79.12 86.80,77.84 86.88,76.60 87.09,75.40 87.45,74.21 88.06,73.07 88.97,72.02 90.15,71.13 91.53,70.38 93.04,69.77 94.69,69.31 96.45,69.08 98.24,69.19 99.92,69.65 101.35,70.41 102.53,71.31 103.57,72.24 104.56,73.19 105.50,74.20 106.25,75.34" fill="none" stroke="#555" stroke-width="0.7"/>
<polygon points="105.50,76.40 105.42,77.48 104.99,78.51 104.30,79.46 103.44,80.30 102.42,81.03 101.24,81.61 99.93,81.98 98.56,82.14 97.20,82.14 95.87,82.04 94.52,81.89 93.15,81.63 91.81,81.19 90.67,80.48 89.87,79.56 89.45,78.50 89.34,77.43 89.40,76.40 89.57,75.40 89.86,74.41 90.36,73.46 91.10,72.59 92.07,71.84 93.19,71.22 94.42,70.71 95.76,70.32 97.20,70.14 98.66,70.22 100.03,70.61 101.20,71.24 102.16,71.99 103.00,72.77 103.81,73.56 104.58,74.40 105.19,75.35" fill="none" stroke="#555" stroke-width="0.7"/>
<polygon points="104.37,76.20 104.31,77.06 103.97,77.89 103.44,78.64 102.77,79.32 101.98,79.91 101.07,80.37 100.06,80.67 99.00,80.79 97.95,80.79 96.92,80.71 95.88,80.59 94.81,80.39 93.78,80.03 92.90,79.47 92.28,78.72 91.96,77.88 91.87,77.03 91.92,76.20 92.05,75.40 92.28,74.61 92.66,73.84 93.24,73.15 93.98,72.55 94.85,72.05 95.80,71.65 96.84,71.34 97.95,71.19 99.08,71.26 100.14,71.57 101.04,72.07 101.79,72.68 102.44,73.30 103.06,73.92 103.66,74.60 104.13,75.36" fill="none" stroke="#555" stroke-width="0.7"/>
<polygon points="103.24,76.00 103.19,76.65 102.96,77.27 102.58,77.83 102.11,78.34 101.55,78.78 100.91,79.13 100.19,79.35 99.44,79.45 98.70,79.44 97.97,79.38 97.24,79.29 96.48,79.14 95.75,78.87 95.13,78.45 94.69,77.89 94.46,77.26 94.40,76.62 94.44,76.00 94.53,75.40 94.69,74.81 94.96,74.23 95.37,73.71 95.89,73.26 96.51,72.89 97.18,72.58 97.91,72.35 98.70,72.24 99.50,72.29 100.25,72.53 100.88,72.91 101.41,73.36 101.87,73.82 102.31,74.29 102.73,74.80 103.07,75.37" fill="#fff" stroke="#555" stroke-width="0.7"/>
<rect x="59.3" y="48.3" width="61.9" height="40" fill="none" stroke="#777" stroke-width="0.8"/>
<line x1="83.8" y1="48" x2="83.8" y2="88.3" stroke="#222" stroke-width="1"/>
<line x1="59" y1="69.3" x2="83.8" y2="69.3" stroke="#222" stroke-width="1"/>
<line x1="83.8" y1="67.3" x2="121.3" y2="67.3" stroke="#222" stroke-width="1"/>
<text x="59.8" y="39.5" fill="#3a3a3a" style="stroke:#3a3a3a;stroke-width:0px" font-size="6.6">CD56<tspan font-size="4.4" y="37.0">bright</tspan></text>
<text x="59.8" y="46.5" fill="#3a3a3a" style="stroke:#3a3a3a;stroke-width:0px" font-size="6.6">CD16<tspan font-size="4.4" y="44.0">-</tspan></text>
<text x="91" y="39.5" fill="#3a3a3a" style="stroke:#3a3a3a;stroke-width:0px" font-size="6.6">CD56<tspan font-size="4.4" y="37.0">bright</tspan></text>
<text x="91" y="46.5" fill="#3a3a3a" style="stroke:#3a3a3a;stroke-width:0px" font-size="6.6">CD16<tspan font-size="5.5" y="44.0">+</tspan></text>
<text x="59.3" y="97.5" fill="#3a3a3a" style="stroke:#3a3a3a;stroke-width:0px" font-size="6.6">CD56<tspan font-size="4.4" y="95.0">dim</tspan></text>
<text x="59.3" y="104.5" fill="#3a3a3a" style="stroke:#3a3a3a;stroke-width:0px" font-size="6.6">CD16<tspan font-size="4.4" y="102.0">-</tspan></text>
<text x="87" y="97.5" fill="#3a3a3a" style="stroke:#3a3a3a;stroke-width:0px" font-size="6.6">CD56<tspan font-size="4.4" y="95.0">dim</tspan></text>
<text x="87" y="104.5" fill="#3a3a3a" style="stroke:#3a3a3a;stroke-width:0px" font-size="6.6">CD16<tspan font-size="5.5" y="102.0">+</tspan></text>
<g transform="translate(48.6,70.2) rotate(-90) scale(0.58,1)"><text x="0" y="3.78" font-size="10.5" font-weight="normal" text-anchor="middle" fill="#111" style="stroke:#111;stroke-width:0.4px">CD56</text></g>
<g transform="translate(100.2,115.8) scale(0.56,1)"><text x="0" y="3.78" font-size="10.5" font-weight="normal" text-anchor="middle" fill="#111" style="stroke:#111;stroke-width:0.4px">CD16</text></g>
<text x="15.2" y="174.5" fill="#000" style="white-space:pre"><tspan font-size="9.6" y="174.5">CD56</tspan><tspan font-size="7.20" y="171.10">bright</tspan><tspan font-size="9.6" y="174.5">CD16</tspan><tspan font-size="6.12" y="171.10">-</tspan><tspan font-size="9.6" y="174.5">/CD56</tspan><tspan font-size="7.20" y="171.10">dim</tspan><tspan font-size="9.6" y="174.5">CD16</tspan><tspan font-size="9.00" y="171.10">+</tspan></text>
<text x="67.6" y="186" font-size="9.2" text-anchor="start" font-weight="normal" fill="#000" >NK cells</text>
<line x1="45.6" y1="192" x2="45.6" y2="246.4" stroke="#111" stroke-width="1"/>
<line x1="42.4" y1="246.40" x2="45.6" y2="246.40" stroke="#111" stroke-width="1"/>
<text class="t" x="40.2" y="249.35" font-size="8.2" text-anchor="end" font-weight="normal" fill="#000" >0.0</text>
<line x1="42.4" y1="236.00" x2="45.6" y2="236.00" stroke="#111" stroke-width="1"/>
<text class="t" x="40.2" y="238.95" font-size="8.2" text-anchor="end" font-weight="normal" fill="#000" >0.1</text>
<line x1="42.4" y1="225.60" x2="45.6" y2="225.60" stroke="#111" stroke-width="1"/>
<text class="t" x="40.2" y="228.55" font-size="8.2" text-anchor="end" font-weight="normal" fill="#000" >0.2</text>
<line x1="42.4" y1="215.20" x2="45.6" y2="215.20" stroke="#111" stroke-width="1"/>
<text class="t" x="40.2" y="218.15" font-size="8.2" text-anchor="end" font-weight="normal" fill="#000" >0.3</text>
<line x1="42.4" y1="204.80" x2="45.6" y2="204.80" stroke="#111" stroke-width="1"/>
<text class="t" x="40.2" y="207.75" font-size="8.2" text-anchor="end" font-weight="normal" fill="#000" >0.4</text>
<line x1="42.4" y1="194.40" x2="45.6" y2="194.40" stroke="#111" stroke-width="1"/>
<text class="t" x="40.2" y="197.35" font-size="8.2" text-anchor="end" font-weight="normal" fill="#000" >0.5</text>
<line x1="42.6" y1="246.4" x2="122.5" y2="246.4" stroke="#111" stroke-width="1.1"/>
<line x1="49.70" y1="246.4" x2="49.70" y2="249.4" stroke="#111" stroke-width="1"/>
<line x1="59.50" y1="246.4" x2="59.50" y2="249.4" stroke="#111" stroke-width="1"/>
<line x1="69.30" y1="246.4" x2="69.30" y2="249.4" stroke="#111" stroke-width="1"/>
<line x1="79.10" y1="246.4" x2="79.10" y2="249.4" stroke="#111" stroke-width="1"/>
<line x1="88.90" y1="246.4" x2="88.90" y2="249.4" stroke="#111" stroke-width="1"/>
<line x1="98.70" y1="246.4" x2="98.70" y2="249.4" stroke="#111" stroke-width="1"/>
<line x1="108.50" y1="246.4" x2="108.50" y2="249.4" stroke="#111" stroke-width="1"/>
<line x1="118.30" y1="246.4" x2="118.30" y2="249.4" stroke="#111" stroke-width="1"/>
<text class="t" transform="translate(49.70,259.90) scale(0.88,1)" font-size="8.6" text-anchor="middle" fill="#000">1</text>
<text class="t" transform="translate(59.50,259.90) scale(0.88,1)" font-size="8.6" text-anchor="middle" fill="#000">2</text>
<text class="t" transform="translate(69.30,259.90) scale(0.88,1)" font-size="8.6" text-anchor="middle" fill="#000">3</text>
<text class="t" transform="translate(79.10,259.90) scale(0.88,1)" font-size="8.6" text-anchor="middle" fill="#000">6</text>
<text class="t" transform="translate(88.90,259.90) scale(0.88,1)" font-size="8.6" text-anchor="middle" fill="#000">9</text>
<text class="t" transform="translate(98.70,259.90) scale(0.88,1)" font-size="8.6" text-anchor="middle" fill="#000">12</text>
<text class="t" transform="translate(108.50,259.90) scale(0.88,1)" font-size="8.6" text-anchor="middle" fill="#000">18</text>
<text class="t" transform="translate(118.30,259.90) scale(0.88,1)" font-size="8.6" text-anchor="middle" fill="#000">24</text>
<polyline points="49.70,231.00 59.50,237.00 69.30,239.60 79.10,236.40 88.90,239.00 98.70,233.40 108.50,236.00 118.30,243.00" fill="none" stroke="#5574ab" stroke-width="1.2"/>
<polyline points="49.70,200.00 59.50,212.60 69.30,221.00 79.10,219.00 88.90,228.40 98.70,231.20 108.50,239.00 118.30,238.60" fill="none" stroke="#b3193a" stroke-width="1.2"/>
<rect x="47.60" y="228.90" width="4.2" height="4.2" fill="#21417f"/>
<rect x="57.40" y="234.90" width="4.2" height="4.2" fill="#21417f"/>
<rect x="67.20" y="237.50" width="4.2" height="4.2" fill="#21417f"/>
<rect x="77.00" y="234.30" width="4.2" height="4.2" fill="#21417f"/>
<rect x="86.80" y="236.90" width="4.2" height="4.2" fill="#21417f"/>
<rect x="96.60" y="231.30" width="4.2" height="4.2" fill="#21417f"/>
<rect x="106.40" y="233.90" width="4.2" height="4.2" fill="#21417f"/>
<rect x="116.20" y="240.90" width="4.2" height="4.2" fill="#21417f"/>
<circle cx="49.70" cy="200.00" r="2.3" fill="#a80f2e"/>
<circle cx="59.50" cy="212.60" r="2.3" fill="#a80f2e"/>
<circle cx="69.30" cy="221.00" r="2.3" fill="#a80f2e"/>
<circle cx="79.10" cy="219.00" r="2.3" fill="#a80f2e"/>
<circle cx="88.90" cy="228.40" r="2.3" fill="#a80f2e"/>
<circle cx="98.70" cy="231.20" r="2.3" fill="#a80f2e"/>
<circle cx="108.50" cy="239.00" r="2.3" fill="#a80f2e"/>
<circle cx="118.30" cy="238.60" r="2.3" fill="#a80f2e"/>
<rect x="47.95" y="193.20" width="1.9" height="1.6" rx="0.5" fill="#111"/>
<rect x="50.55" y="193.20" width="1.9" height="1.6" rx="0.5" fill="#111"/>
<rect x="56.05" y="203.60" width="1.9" height="1.6" rx="0.5" fill="#111"/>
<rect x="58.65" y="203.60" width="1.9" height="1.6" rx="0.5" fill="#111"/>
<rect x="61.25" y="203.60" width="1.9" height="1.6" rx="0.5" fill="#111"/>
<rect x="64.55" y="214.60" width="1.9" height="1.6" rx="0.5" fill="#111"/>
<rect x="67.15" y="214.60" width="1.9" height="1.6" rx="0.5" fill="#111"/>
<rect x="69.75" y="214.60" width="1.9" height="1.6" rx="0.5" fill="#111"/>
<rect x="72.35" y="214.60" width="1.9" height="1.6" rx="0.5" fill="#111"/>
<rect x="78.05" y="209.20" width="1.9" height="1.6" rx="0.5" fill="#111"/>
<line x1="126.4" y1="195" x2="141" y2="195" stroke="#b3193a" stroke-width="1.1"/>
<circle cx="133.7" cy="195" r="2.1" fill="#a80f2e"/>
<text x="144.4" y="197.70" font-size="7.5" text-anchor="start" font-weight="normal" fill="#222" >Haplo</text>
<line x1="126.4" y1="206.6" x2="141" y2="206.6" stroke="#5574ab" stroke-width="1.1"/>
<rect x="131.7" y="204.6" width="4" height="4" fill="#21417f"/>
<text x="144.4" y="209.30" font-size="7.5" text-anchor="start" font-weight="normal" fill="#222" >MD</text>
<g transform="translate(83.7,268.6) scale(0.65,1)"><text x="0" y="3.53" font-size="9.8" font-weight="normal" text-anchor="middle" fill="#000" style="stroke:#000;stroke-width:0.45px">Months after HCT</text></g>
<g transform="translate(19.6,218.8) rotate(-90) scale(0.63,1)"><text x="0" y="3.71" font-size="10.3" font-weight="normal" text-anchor="middle" fill="#000" style="stroke:#000;stroke-width:0.45px">Ratio</text></g>
<line x1="192" y1="30.3" x2="192" y2="147.5" stroke="#555" stroke-width="1.3"/>
<line x1="192" y1="185" x2="192" y2="389.5" stroke="#555" stroke-width="1.3"/>
<g transform="translate(192.6,165.7) rotate(-90) scale(0.85,1)"><text x="0" y="2.74" font-size="7.6" font-weight="normal" text-anchor="middle" fill="#111" style="stroke:#111;stroke-width:0.4px">% NK cells</text></g>
<line x1="195.8" y1="408.2" x2="319" y2="408.2" stroke="#555" stroke-width="1.3"/>
<line x1="376" y1="408.2" x2="471.3" y2="408.2" stroke="#555" stroke-width="1.3"/>
<g transform="translate(347.4,408.2) scale(0.66,1)"><text x="0" y="3.35" font-size="9.3" font-weight="normal" text-anchor="middle" fill="#000" style="stroke:#000;stroke-width:0.45px">Months after HCT</text></g>
<text x="201.8" y="30.3" fill="#000" style="white-space:pre"><tspan font-size="9.5" y="30.3">CD56</tspan><tspan font-size="7.00" y="26.90">bright</tspan><tspan font-size="9.5" y="30.3">CD16</tspan><tspan font-size="5.95" y="26.90">-</tspan><tspan font-size="9.5" y="30.3"> NK cells</tspan></text>
<rect x="296.2" y="37.7" width="4.2" height="4.2" fill="#a80f2e"/>
<rect x="296.2" y="48.7" width="4.2" height="4.2" fill="#21417f"/>
<text x="303.3" y="42.2" font-size="7" text-anchor="start" font-weight="normal" fill="#000" >Haplo-HCT</text>
<text x="303.3" y="53.2" font-size="7" text-anchor="start" font-weight="normal" fill="#000" >MD-HCT</text>
<rect x="216.40" y="72.40" width="2.3" height="18.10" fill="#c8123a"/>
<rect x="216.40" y="72.40" width="2.3" height="10.86" fill="#000" fill-opacity="0.3"/>
<line x1="217.55" y1="43.50" x2="217.55" y2="72.40" stroke="#222" stroke-width="1.0"/>
<line x1="217.55" y1="72.40" x2="217.55" y2="83.26" stroke="#000" stroke-opacity="0.6" stroke-width="0.8"/>
<rect x="220.35" y="78.30" width="2.3" height="12.20" fill="#2a4c90"/>
<rect x="220.35" y="78.30" width="2.3" height="6.12" fill="#000" fill-opacity="0.3"/>
<line x1="221.50" y1="71.10" x2="221.50" y2="78.30" stroke="#222" stroke-width="1.0"/>
<line x1="221.50" y1="78.30" x2="221.50" y2="84.42" stroke="#000" stroke-opacity="0.6" stroke-width="0.8"/>
<rect x="226.40" y="66.10" width="2.3" height="24.40" fill="#c8123a"/>
<rect x="226.40" y="66.10" width="2.3" height="14.64" fill="#000" fill-opacity="0.3"/>
<line x1="227.55" y1="42.80" x2="227.55" y2="66.10" stroke="#222" stroke-width="1.0"/>
<line x1="227.55" y1="66.10" x2="227.55" y2="80.74" stroke="#000" stroke-opacity="0.6" stroke-width="0.8"/>
<rect x="230.35" y="82.00" width="2.3" height="8.50" fill="#2a4c90"/>
<rect x="230.35" y="82.00" width="2.3" height="5.10" fill="#000" fill-opacity="0.3"/>
<line x1="231.50" y1="75.20" x2="231.50" y2="82.00" stroke="#222" stroke-width="1.0"/>
<line x1="231.50" y1="82.00" x2="231.50" y2="87.10" stroke="#000" stroke-opacity="0.6" stroke-width="0.8"/>
<rect x="236.40" y="70.50" width="2.3" height="20.00" fill="#c8123a"/>
<rect x="236.40" y="70.50" width="2.3" height="12.00" fill="#000" fill-opacity="0.3"/>
<line x1="237.55" y1="47.00" x2="237.55" y2="70.50" stroke="#222" stroke-width="1.0"/>
<line x1="237.55" y1="70.50" x2="237.55" y2="82.50" stroke="#000" stroke-opacity="0.6" stroke-width="0.8"/>
<rect x="240.35" y="84.50" width="2.3" height="6.00" fill="#2a4c90"/>
<rect x="240.35" y="84.50" width="2.3" height="3.60" fill="#000" fill-opacity="0.3"/>
<line x1="241.50" y1="75.70" x2="241.50" y2="84.50" stroke="#222" stroke-width="1.0"/>
<line x1="241.50" y1="84.50" x2="241.50" y2="88.10" stroke="#000" stroke-opacity="0.6" stroke-width="0.8"/>
<rect x="246.40" y="71.00" width="2.3" height="19.50" fill="#c8123a"/>
<rect x="246.40" y="71.00" width="2.3" height="11.70" fill="#000" fill-opacity="0.3"/>
<line x1="247.55" y1="57.00" x2="247.55" y2="71.00" stroke="#222" stroke-width="1.0"/>
<line x1="247.55" y1="71.00" x2="247.55" y2="82.70" stroke="#000" stroke-opacity="0.6" stroke-width="0.8"/>
<rect x="250.35" y="81.20" width="2.3" height="9.30" fill="#2a4c90"/>
<rect x="250.35" y="81.20" width="2.3" height="3.57" fill="#000" fill-opacity="0.3"/>
<line x1="251.50" y1="77.00" x2="251.50" y2="81.20" stroke="#222" stroke-width="1.0"/>
<line x1="251.50" y1="81.20" x2="251.50" y2="84.77" stroke="#000" stroke-opacity="0.6" stroke-width="0.8"/>
<rect x="256.40" y="75.80" width="2.3" height="14.70" fill="#c8123a"/>
<rect x="256.40" y="75.80" width="2.3" height="5.18" fill="#000" fill-opacity="0.3"/>
<line x1="257.55" y1="69.70" x2="257.55" y2="75.80" stroke="#222" stroke-width="1.0"/>
<line x1="257.55" y1="75.80" x2="257.55" y2="80.98" stroke="#000" stroke-opacity="0.6" stroke-width="0.8"/>
<rect x="260.35" y="84.80" width="2.3" height="5.70" fill="#2a4c90"/>
<rect x="260.35" y="84.80" width="2.3" height="3.42" fill="#000" fill-opacity="0.3"/>
<line x1="261.50" y1="77.00" x2="261.50" y2="84.80" stroke="#222" stroke-width="1.0"/>
<line x1="261.50" y1="84.80" x2="261.50" y2="88.22" stroke="#000" stroke-opacity="0.6" stroke-width="0.8"/>
<rect x="266.40" y="77.00" width="2.3" height="13.50" fill="#c8123a"/>
<rect x="266.40" y="77.00" width="2.3" height="7.65" fill="#000" fill-opacity="0.3"/>
<line x1="267.55" y1="68.00" x2="267.55" y2="77.00" stroke="#222" stroke-width="1.0"/>
<line x1="267.55" y1="77.00" x2="267.55" y2="84.65" stroke="#000" stroke-opacity="0.6" stroke-width="0.8"/>
<rect x="270.35" y="78.80" width="2.3" height="11.70" fill="#2a4c90"/>
<rect x="270.35" y="78.80" width="2.3" height="7.02" fill="#000" fill-opacity="0.3"/>
<line x1="271.50" y1="68.20" x2="271.50" y2="78.80" stroke="#222" stroke-width="1.0"/>
<line x1="271.50" y1="78.80" x2="271.50" y2="85.82" stroke="#000" stroke-opacity="0.6" stroke-width="0.8"/>
<rect x="276.40" y="85.00" width="2.3" height="5.50" fill="#c8123a"/>
<rect x="276.40" y="85.00" width="2.3" height="3.30" fill="#000" fill-opacity="0.3"/>
<line x1="277.55" y1="72.20" x2="277.55" y2="85.00" stroke="#222" stroke-width="1.0"/>
<line x1="277.55" y1="85.00" x2="277.55" y2="88.30" stroke="#000" stroke-opacity="0.6" stroke-width="0.8"/>
<rect x="280.35" y="81.00" width="2.3" height="9.50" fill="#2a4c90"/>
<rect x="280.35" y="81.00" width="2.3" height="2.97" fill="#000" fill-opacity="0.3"/>
<line x1="281.50" y1="77.50" x2="281.50" y2="81.00" stroke="#222" stroke-width="1.0"/>
<line x1="281.50" y1="81.00" x2="281.50" y2="83.97" stroke="#000" stroke-opacity="0.6" stroke-width="0.8"/>
<rect x="286.40" y="83.00" width="2.3" height="7.50" fill="#c8123a"/>
<rect x="286.40" y="83.00" width="2.3" height="4.50" fill="#000" fill-opacity="0.3"/>
<line x1="287.55" y1="71.70" x2="287.55" y2="83.00" stroke="#222" stroke-width="1.0"/>
<line x1="287.55" y1="83.00" x2="287.55" y2="87.50" stroke="#000" stroke-opacity="0.6" stroke-width="0.8"/>
<rect x="290.35" y="87.00" width="2.3" height="3.50" fill="#2a4c90"/>
<rect x="290.35" y="87.00" width="2.3" height="1.70" fill="#000" fill-opacity="0.3"/>
<line x1="291.50" y1="85.00" x2="291.50" y2="87.00" stroke="#222" stroke-width="1.0"/>
<line x1="291.50" y1="87.00" x2="291.50" y2="88.70" stroke="#000" stroke-opacity="0.6" stroke-width="0.8"/>
<line x1="215.5" y1="36" x2="215.5" y2="90.5" stroke="#111" stroke-width="1"/>
<line x1="212.3" y1="90.50" x2="215.5" y2="90.50" stroke="#111" stroke-width="1"/>
<text class="t" x="209.3" y="93.45" font-size="8.2" text-anchor="end" font-weight="normal" fill="#000" >0</text>
<line x1="212.3" y1="77.50" x2="215.5" y2="77.50" stroke="#111" stroke-width="1"/>
<text class="t" x="209.3" y="80.45" font-size="8.2" text-anchor="end" font-weight="normal" fill="#000" >10</text>
<line x1="212.3" y1="64.50" x2="215.5" y2="64.50" stroke="#111" stroke-width="1"/>
<text class="t" x="209.3" y="67.45" font-size="8.2" text-anchor="end" font-weight="normal" fill="#000" >20</text>
<line x1="212.3" y1="51.50" x2="215.5" y2="51.50" stroke="#111" stroke-width="1"/>
<text class="t" x="209.3" y="54.45" font-size="8.2" text-anchor="end" font-weight="normal" fill="#000" >30</text>
<line x1="212.3" y1="38.50" x2="215.5" y2="38.50" stroke="#111" stroke-width="1"/>
<text class="t" x="209.3" y="41.45" font-size="8.2" text-anchor="end" font-weight="normal" fill="#000" >40</text>
<line x1="212.2" y1="90.5" x2="293.5" y2="90.5" stroke="#111" stroke-width="1.1"/>
<line x1="219.50" y1="90.5" x2="219.50" y2="93.5" stroke="#111" stroke-width="1"/>
<line x1="229.50" y1="90.5" x2="229.50" y2="93.5" stroke="#111" stroke-width="1"/>
<line x1="239.50" y1="90.5" x2="239.50" y2="93.5" stroke="#111" stroke-width="1"/>
<line x1="249.50" y1="90.5" x2="249.50" y2="93.5" stroke="#111" stroke-width="1"/>
<line x1="259.50" y1="90.5" x2="259.50" y2="93.5" stroke="#111" stroke-width="1"/>
<line x1="269.50" y1="90.5" x2="269.50" y2="93.5" stroke="#111" stroke-width="1"/>
<line x1="279.50" y1="90.5" x2="279.50" y2="93.5" stroke="#111" stroke-width="1"/>
<line x1="289.50" y1="90.5" x2="289.50" y2="93.5" stroke="#111" stroke-width="1"/>
<text class="t" transform="translate(219.50,105.00) scale(0.88,1)" font-size="8.6" text-anchor="middle" fill="#000">1</text>
<text class="t" transform="translate(229.50,105.00) scale(0.88,1)" font-size="8.6" text-anchor="middle" fill="#000">2</text>
<text class="t" transform="translate(239.50,105.00) scale(0.88,1)" font-size="8.6" text-anchor="middle" fill="#000">3</text>
<text class="t" transform="translate(249.50,105.00) scale(0.88,1)" font-size="8.6" text-anchor="middle" fill="#000">6</text>
<text class="t" transform="translate(259.50,105.00) scale(0.88,1)" font-size="8.6" text-anchor="middle" fill="#000">9</text>
<text class="t" transform="translate(269.50,105.00) scale(0.88,1)" font-size="8.6" text-anchor="middle" fill="#000">12</text>
<text class="t" transform="translate(279.50,105.00) scale(0.88,1)" font-size="8.6" text-anchor="middle" fill="#000">18</text>
<text class="t" transform="translate(289.50,105.00) scale(0.88,1)" font-size="8.6" text-anchor="middle" fill="#000">24</text>
<rect x="218.55" y="35.40" width="1.9" height="1.6" rx="0.5" fill="#111"/>
<line x1="217.90" y1="40.2" x2="221.10" y2="40.2" stroke="#111" stroke-width="1"/>
<rect x="225.95" y="34.90" width="1.9" height="1.6" rx="0.5" fill="#111"/>
<rect x="228.55" y="34.90" width="1.9" height="1.6" rx="0.5" fill="#111"/>
<rect x="231.15" y="34.90" width="1.9" height="1.6" rx="0.5" fill="#111"/>
<line x1="227.90" y1="39.5" x2="231.10" y2="39.5" stroke="#111" stroke-width="1"/>
<rect x="235.45" y="40.70" width="1.9" height="1.6" rx="0.5" fill="#111"/>
<rect x="238.05" y="40.70" width="1.9" height="1.6" rx="0.5" fill="#111"/>
<rect x="240.65" y="40.70" width="1.9" height="1.6" rx="0.5" fill="#111"/>
<rect x="243.25" y="40.70" width="1.9" height="1.6" rx="0.5" fill="#111"/>
<line x1="238.70" y1="45.3" x2="241.90" y2="45.3" stroke="#111" stroke-width="1"/>
<rect x="247.15" y="49.50" width="1.9" height="1.6" rx="0.5" fill="#111"/>
<rect x="249.75" y="49.50" width="1.9" height="1.6" rx="0.5" fill="#111"/>
<line x1="247.80" y1="54.3" x2="251.00" y2="54.3" stroke="#111" stroke-width="1"/>
<rect x="288.55" y="63.70" width="1.9" height="1.6" rx="0.5" fill="#111"/>
<line x1="287.90" y1="68.5" x2="291.10" y2="68.5" stroke="#111" stroke-width="1"/>
<text x="211" y="129" fill="#000" style="white-space:pre"><tspan font-size="9.5" y="129">CD56</tspan><tspan font-size="7.00" y="125.60">dim</tspan><tspan font-size="9.5" y="129">CD16</tspan><tspan font-size="8.75" y="125.60">+</tspan><tspan font-size="9.5" y="129"> NK cells</tspan></text>
<rect x="220.90" y="171.00" width="2.3" height="18.40" fill="#c8123a"/>
<rect x="220.90" y="171.00" width="2.3" height="11.04" fill="#000" fill-opacity="0.42"/>
<line x1="222.05" y1="159.00" x2="222.05" y2="171.00" stroke="#8a8a8a" stroke-width="1.4"/>
<line x1="222.05" y1="171.00" x2="222.05" y2="182.04" stroke="#000" stroke-opacity="0.6" stroke-width="0.8"/>
<rect x="224.85" y="152.00" width="2.3" height="37.40" fill="#2a4c90"/>
<rect x="224.85" y="152.00" width="2.3" height="7.80" fill="#000" fill-opacity="0.42"/>
<line x1="226.00" y1="146.00" x2="226.00" y2="152.00" stroke="#8a8a8a" stroke-width="1.4"/>
<line x1="226.00" y1="152.00" x2="226.00" y2="159.80" stroke="#000" stroke-opacity="0.6" stroke-width="0.8"/>
<rect x="230.90" y="159.00" width="2.3" height="30.40" fill="#c8123a"/>
<rect x="230.90" y="159.00" width="2.3" height="9.10" fill="#000" fill-opacity="0.42"/>
<line x1="232.05" y1="152.00" x2="232.05" y2="159.00" stroke="#8a8a8a" stroke-width="1.4"/>
<line x1="232.05" y1="159.00" x2="232.05" y2="168.10" stroke="#000" stroke-opacity="0.6" stroke-width="0.8"/>
<rect x="234.85" y="147.00" width="2.3" height="42.40" fill="#2a4c90"/>
<rect x="234.85" y="147.00" width="2.3" height="5.98" fill="#000" fill-opacity="0.42"/>
<line x1="236.00" y1="142.40" x2="236.00" y2="147.00" stroke="#8a8a8a" stroke-width="1.4"/>
<line x1="236.00" y1="147.00" x2="236.00" y2="152.98" stroke="#000" stroke-opacity="0.6" stroke-width="0.8"/>
<rect x="240.90" y="158.00" width="2.3" height="31.40" fill="#c8123a"/>
<rect x="240.90" y="158.00" width="2.3" height="9.88" fill="#000" fill-opacity="0.42"/>
<line x1="242.05" y1="150.40" x2="242.05" y2="158.00" stroke="#8a8a8a" stroke-width="1.4"/>
<line x1="242.05" y1="158.00" x2="242.05" y2="167.88" stroke="#000" stroke-opacity="0.6" stroke-width="0.8"/>
<rect x="244.85" y="145.00" width="2.3" height="44.40" fill="#2a4c90"/>
<rect x="244.85" y="145.00" width="2.3" height="3.90" fill="#000" fill-opacity="0.42"/>
<line x1="246.00" y1="142.00" x2="246.00" y2="145.00" stroke="#8a8a8a" stroke-width="1.4"/>
<line x1="246.00" y1="145.00" x2="246.00" y2="148.90" stroke="#000" stroke-opacity="0.6" stroke-width="0.8"/>
<rect x="250.90" y="153.00" width="2.3" height="36.40" fill="#c8123a"/>
<rect x="250.90" y="153.00" width="2.3" height="5.20" fill="#000" fill-opacity="0.42"/>
<line x1="252.05" y1="149.00" x2="252.05" y2="153.00" stroke="#8a8a8a" stroke-width="1.4"/>
<line x1="252.05" y1="153.00" x2="252.05" y2="158.20" stroke="#000" stroke-opacity="0.6" stroke-width="0.8"/>
<rect x="254.85" y="150.00" width="2.3" height="39.40" fill="#2a4c90"/>
<rect x="254.85" y="150.00" width="2.3" height="9.10" fill="#000" fill-opacity="0.42"/>
<line x1="256.00" y1="143.00" x2="256.00" y2="150.00" stroke="#8a8a8a" stroke-width="1.4"/>
<line x1="256.00" y1="150.00" x2="256.00" y2="159.10" stroke="#000" stroke-opacity="0.6" stroke-width="0.8"/>
<rect x="260.90" y="153.00" width="2.3" height="36.40" fill="#c8123a"/>
<rect x="260.90" y="153.00" width="2.3" height="11.18" fill="#000" fill-opacity="0.42"/>
<line x1="262.05" y1="144.40" x2="262.05" y2="153.00" stroke="#8a8a8a" stroke-width="1.4"/>
<line x1="262.05" y1="153.00" x2="262.05" y2="164.18" stroke="#000" stroke-opacity="0.6" stroke-width="0.8"/>
<rect x="264.85" y="151.00" width="2.3" height="38.40" fill="#2a4c90"/>
<rect x="264.85" y="151.00" width="2.3" height="9.62" fill="#000" fill-opacity="0.42"/>
<line x1="266.00" y1="143.60" x2="266.00" y2="151.00" stroke="#8a8a8a" stroke-width="1.4"/>
<line x1="266.00" y1="151.00" x2="266.00" y2="160.62" stroke="#000" stroke-opacity="0.6" stroke-width="0.8"/>
<rect x="270.90" y="153.60" width="2.3" height="35.80" fill="#c8123a"/>
<rect x="270.90" y="153.60" width="2.3" height="10.66" fill="#000" fill-opacity="0.42"/>
<line x1="272.05" y1="145.40" x2="272.05" y2="153.60" stroke="#8a8a8a" stroke-width="1.4"/>
<line x1="272.05" y1="153.60" x2="272.05" y2="164.26" stroke="#000" stroke-opacity="0.6" stroke-width="0.8"/>
<rect x="274.85" y="151.00" width="2.3" height="38.40" fill="#2a4c90"/>
<rect x="274.85" y="151.00" width="2.3" height="10.40" fill="#000" fill-opacity="0.42"/>
<line x1="276.00" y1="143.00" x2="276.00" y2="151.00" stroke="#8a8a8a" stroke-width="1.4"/>
<line x1="276.00" y1="151.00" x2="276.00" y2="161.40" stroke="#000" stroke-opacity="0.6" stroke-width="0.8"/>
<rect x="280.90" y="151.00" width="2.3" height="38.40" fill="#c8123a"/>
<rect x="280.90" y="151.00" width="2.3" height="10.40" fill="#000" fill-opacity="0.42"/>
<line x1="282.05" y1="143.00" x2="282.05" y2="151.00" stroke="#8a8a8a" stroke-width="1.4"/>
<line x1="282.05" y1="151.00" x2="282.05" y2="161.40" stroke="#000" stroke-opacity="0.6" stroke-width="0.8"/>
<rect x="284.85" y="147.60" width="2.3" height="41.80" fill="#2a4c90"/>
<rect x="284.85" y="147.60" width="2.3" height="3.38" fill="#000" fill-opacity="0.42"/>
<line x1="286.00" y1="145.00" x2="286.00" y2="147.60" stroke="#8a8a8a" stroke-width="1.4"/>
<line x1="286.00" y1="147.60" x2="286.00" y2="150.98" stroke="#000" stroke-opacity="0.6" stroke-width="0.8"/>
<rect x="290.90" y="148.70" width="2.3" height="40.70" fill="#c8123a"/>
<rect x="290.90" y="148.70" width="2.3" height="6.63" fill="#000" fill-opacity="0.42"/>
<line x1="292.05" y1="143.60" x2="292.05" y2="148.70" stroke="#8a8a8a" stroke-width="1.4"/>
<line x1="292.05" y1="148.70" x2="292.05" y2="155.33" stroke="#000" stroke-opacity="0.6" stroke-width="0.8"/>
<rect x="294.85" y="144.20" width="2.3" height="45.20" fill="#2a4c90"/>
<rect x="294.85" y="144.20" width="2.3" height="4.16" fill="#000" fill-opacity="0.42"/>
<line x1="296.00" y1="141.00" x2="296.00" y2="144.20" stroke="#8a8a8a" stroke-width="1.4"/>
<line x1="296.00" y1="144.20" x2="296.00" y2="148.36" stroke="#000" stroke-opacity="0.6" stroke-width="0.8"/>
<line x1="220" y1="136" x2="220" y2="189.4" stroke="#111" stroke-width="1"/>
<line x1="216.8" y1="189.40" x2="220" y2="189.40" stroke="#111" stroke-width="1"/>
<text class="t" x="213.7" y="192.35" font-size="8.2" text-anchor="end" font-weight="normal" fill="#000" >0</text>
<line x1="216.8" y1="176.40" x2="220" y2="176.40" stroke="#111" stroke-width="1"/>
<text class="t" x="213.7" y="179.35" font-size="8.2" text-anchor="end" font-weight="normal" fill="#000" >25</text>
<line x1="216.8" y1="163.40" x2="220" y2="163.40" stroke="#111" stroke-width="1"/>
<text class="t" x="213.7" y="166.35" font-size="8.2" text-anchor="end" font-weight="normal" fill="#000" >50</text>
<line x1="216.8" y1="150.40" x2="220" y2="150.40" stroke="#111" stroke-width="1"/>
<text class="t" x="213.7" y="153.35" font-size="8.2" text-anchor="end" font-weight="normal" fill="#000" >75</text>
<line x1="216.8" y1="137.40" x2="220" y2="137.40" stroke="#111" stroke-width="1"/>
<text class="t" x="213.7" y="140.35" font-size="8.2" text-anchor="end" font-weight="normal" fill="#000" >100</text>
<line x1="216.7" y1="189.4" x2="297.6" y2="189.4" stroke="#111" stroke-width="1.1"/>
<line x1="224.00" y1="189.4" x2="224.00" y2="192.4" stroke="#111" stroke-width="1"/>
<line x1="234.00" y1="189.4" x2="234.00" y2="192.4" stroke="#111" stroke-width="1"/>
<line x1="244.00" y1="189.4" x2="244.00" y2="192.4" stroke="#111" stroke-width="1"/>
<line x1="254.00" y1="189.4" x2="254.00" y2="192.4" stroke="#111" stroke-width="1"/>
<line x1="264.00" y1="189.4" x2="264.00" y2="192.4" stroke="#111" stroke-width="1"/>
<line x1="274.00" y1="189.4" x2="274.00" y2="192.4" stroke="#111" stroke-width="1"/>
<line x1="284.00" y1="189.4" x2="284.00" y2="192.4" stroke="#111" stroke-width="1"/>
<line x1="294.00" y1="189.4" x2="294.00" y2="192.4" stroke="#111" stroke-width="1"/>
<text class="t" transform="translate(224.00,203.50) scale(0.88,1)" font-size="8.6" text-anchor="middle" fill="#000">1</text>
<text class="t" transform="translate(234.00,203.50) scale(0.88,1)" font-size="8.6" text-anchor="middle" fill="#000">2</text>
<text class="t" transform="translate(244.00,203.50) scale(0.88,1)" font-size="8.6" text-anchor="middle" fill="#000">3</text>
<text class="t" transform="translate(254.00,203.50) scale(0.88,1)" font-size="8.6" text-anchor="middle" fill="#000">6</text>
<text class="t" transform="translate(264.00,203.50) scale(0.88,1)" font-size="8.6" text-anchor="middle" fill="#000">9</text>
<text class="t" transform="translate(274.00,203.50) scale(0.88,1)" font-size="8.6" text-anchor="middle" fill="#000">12</text>
<text class="t" transform="translate(284.00,203.50) scale(0.88,1)" font-size="8.6" text-anchor="middle" fill="#000">18</text>
<text class="t" transform="translate(294.00,203.50) scale(0.88,1)" font-size="8.6" text-anchor="middle" fill="#000">24</text>
<rect x="220.60" y="141.60" width="1.9" height="1.6" rx="0.5" fill="#111"/>
<rect x="222.90" y="141.60" width="1.9" height="1.6" rx="0.5" fill="#111"/>
<rect x="225.20" y="141.60" width="1.9" height="1.6" rx="0.5" fill="#111"/>
<rect x="227.50" y="141.60" width="1.9" height="1.6" rx="0.5" fill="#111"/>
<line x1="223.40" y1="146" x2="226.60" y2="146" stroke="#111" stroke-width="1"/>
<rect x="228.60" y="136.60" width="1.9" height="1.6" rx="0.5" fill="#111"/>
<rect x="230.90" y="136.60" width="1.9" height="1.6" rx="0.5" fill="#111"/>
<rect x="233.20" y="136.60" width="1.9" height="1.6" rx="0.5" fill="#111"/>
<rect x="235.50" y="136.60" width="1.9" height="1.6" rx="0.5" fill="#111"/>
<line x1="231.40" y1="140.4" x2="234.60" y2="140.4" stroke="#111" stroke-width="1"/>
<rect x="238.90" y="136.60" width="1.9" height="1.6" rx="0.5" fill="#111"/>
<rect x="241.20" y="136.60" width="1.9" height="1.6" rx="0.5" fill="#111"/>
<rect x="243.50" y="136.60" width="1.9" height="1.6" rx="0.5" fill="#111"/>
<rect x="245.80" y="136.60" width="1.9" height="1.6" rx="0.5" fill="#111"/>
<line x1="241.70" y1="140" x2="244.90" y2="140" stroke="#111" stroke-width="1"/>
<rect x="253.05" y="134.60" width="1.9" height="1.6" rx="0.5" fill="#111"/>
<line x1="252.40" y1="138" x2="255.60" y2="138" stroke="#111" stroke-width="1"/>
<rect x="293.05" y="133.20" width="1.9" height="1.6" rx="0.5" fill="#111"/>
<line x1="292.40" y1="138.5" x2="295.60" y2="138.5" stroke="#111" stroke-width="1"/>
<text x="205" y="227" fill="#000" style="white-space:pre"><tspan font-size="9.5" y="227">CD56</tspan><tspan font-size="7.00" y="223.60">dim</tspan><tspan font-size="9.5" y="227">CD16</tspan><tspan font-size="5.95" y="223.60">-</tspan><tspan font-size="9.5" y="227"> NK cells</tspan></text>
<rect x="216.40" y="265.00" width="2.3" height="22.50" fill="#c8123a"/>
<rect x="216.40" y="265.00" width="2.3" height="15.75" fill="#000" fill-opacity="0.3"/>
<line x1="217.55" y1="238.00" x2="217.55" y2="265.00" stroke="#333" stroke-width="1.0"/>
<line x1="217.55" y1="265.00" x2="217.55" y2="280.75" stroke="#000" stroke-opacity="0.6" stroke-width="0.8"/>
<rect x="220.35" y="278.60" width="2.3" height="8.90" fill="#2a4c90"/>
<rect x="220.35" y="278.60" width="2.3" height="5.61" fill="#000" fill-opacity="0.3"/>
<line x1="221.50" y1="272.00" x2="221.50" y2="278.60" stroke="#333" stroke-width="1.0"/>
<line x1="221.50" y1="278.60" x2="221.50" y2="284.21" stroke="#000" stroke-opacity="0.6" stroke-width="0.8"/>
<rect x="226.40" y="277.60" width="2.3" height="9.90" fill="#c8123a"/>
<rect x="226.40" y="277.60" width="2.3" height="6.80" fill="#000" fill-opacity="0.3"/>
<line x1="227.55" y1="269.60" x2="227.55" y2="277.60" stroke="#333" stroke-width="1.0"/>
<line x1="227.55" y1="277.60" x2="227.55" y2="284.40" stroke="#000" stroke-opacity="0.6" stroke-width="0.8"/>
<rect x="230.35" y="281.00" width="2.3" height="6.50" fill="#2a4c90"/>
<rect x="230.35" y="281.00" width="2.3" height="4.55" fill="#000" fill-opacity="0.3"/>
<line x1="231.50" y1="275.60" x2="231.50" y2="281.00" stroke="#333" stroke-width="1.0"/>
<line x1="231.50" y1="281.00" x2="231.50" y2="285.55" stroke="#000" stroke-opacity="0.6" stroke-width="0.8"/>
<rect x="236.40" y="281.00" width="2.3" height="6.50" fill="#c8123a"/>
<rect x="236.40" y="281.00" width="2.3" height="4.55" fill="#000" fill-opacity="0.3"/>
<line x1="237.55" y1="275.60" x2="237.55" y2="281.00" stroke="#333" stroke-width="1.0"/>
<line x1="237.55" y1="281.00" x2="237.55" y2="285.55" stroke="#000" stroke-opacity="0.6" stroke-width="0.8"/>
<rect x="240.35" y="283.00" width="2.3" height="4.50" fill="#2a4c90"/>
<rect x="240.35" y="283.00" width="2.3" height="2.21" fill="#000" fill-opacity="0.3"/>
<line x1="241.50" y1="280.40" x2="241.50" y2="283.00" stroke="#333" stroke-width="1.0"/>
<line x1="241.50" y1="283.00" x2="241.50" y2="285.21" stroke="#000" stroke-opacity="0.6" stroke-width="0.8"/>
<rect x="246.40" y="280.00" width="2.3" height="7.50" fill="#c8123a"/>
<rect x="246.40" y="280.00" width="2.3" height="5.25" fill="#000" fill-opacity="0.3"/>
<line x1="247.55" y1="272.00" x2="247.55" y2="280.00" stroke="#333" stroke-width="1.0"/>
<line x1="247.55" y1="280.00" x2="247.55" y2="285.25" stroke="#000" stroke-opacity="0.6" stroke-width="0.8"/>
<rect x="250.35" y="281.00" width="2.3" height="6.50" fill="#2a4c90"/>
<rect x="250.35" y="281.00" width="2.3" height="1.70" fill="#000" fill-opacity="0.3"/>
<line x1="251.50" y1="279.00" x2="251.50" y2="281.00" stroke="#333" stroke-width="1.0"/>
<line x1="251.50" y1="281.00" x2="251.50" y2="282.70" stroke="#000" stroke-opacity="0.6" stroke-width="0.8"/>
<rect x="256.40" y="281.60" width="2.3" height="5.90" fill="#c8123a"/>
<rect x="256.40" y="281.60" width="2.3" height="4.13" fill="#000" fill-opacity="0.3"/>
<line x1="257.55" y1="271.40" x2="257.55" y2="281.60" stroke="#333" stroke-width="1.0"/>
<line x1="257.55" y1="281.60" x2="257.55" y2="285.73" stroke="#000" stroke-opacity="0.6" stroke-width="0.8"/>
<rect x="260.35" y="281.00" width="2.3" height="6.50" fill="#2a4c90"/>
<rect x="260.35" y="281.00" width="2.3" height="4.55" fill="#000" fill-opacity="0.3"/>
<line x1="261.50" y1="275.60" x2="261.50" y2="281.00" stroke="#333" stroke-width="1.0"/>
<line x1="261.50" y1="281.00" x2="261.50" y2="285.55" stroke="#000" stroke-opacity="0.6" stroke-width="0.8"/>
<rect x="266.40" y="281.00" width="2.3" height="6.50" fill="#c8123a"/>
<rect x="266.40" y="281.00" width="2.3" height="3.91" fill="#000" fill-opacity="0.3"/>
<line x1="267.55" y1="276.40" x2="267.55" y2="281.00" stroke="#333" stroke-width="1.0"/>
<line x1="267.55" y1="281.00" x2="267.55" y2="284.91" stroke="#000" stroke-opacity="0.6" stroke-width="0.8"/>
<rect x="270.35" y="277.60" width="2.3" height="9.90" fill="#2a4c90"/>
<rect x="270.35" y="277.60" width="2.3" height="3.91" fill="#000" fill-opacity="0.3"/>
<line x1="271.50" y1="273.00" x2="271.50" y2="277.60" stroke="#333" stroke-width="1.0"/>
<line x1="271.50" y1="277.60" x2="271.50" y2="281.51" stroke="#000" stroke-opacity="0.6" stroke-width="0.8"/>
<rect x="276.40" y="279.60" width="2.3" height="7.90" fill="#c8123a"/>
<rect x="276.40" y="279.60" width="2.3" height="5.53" fill="#000" fill-opacity="0.3"/>
<line x1="277.55" y1="270.40" x2="277.55" y2="279.60" stroke="#333" stroke-width="1.0"/>
<line x1="277.55" y1="279.60" x2="277.55" y2="285.13" stroke="#000" stroke-opacity="0.6" stroke-width="0.8"/>
<rect x="280.35" y="280.00" width="2.3" height="7.50" fill="#2a4c90"/>
<rect x="280.35" y="280.00" width="2.3" height="5.25" fill="#000" fill-opacity="0.3"/>
<line x1="281.50" y1="273.00" x2="281.50" y2="280.00" stroke="#333" stroke-width="1.0"/>
<line x1="281.50" y1="280.00" x2="281.50" y2="285.25" stroke="#000" stroke-opacity="0.6" stroke-width="0.8"/>
<rect x="286.40" y="279.60" width="2.3" height="7.90" fill="#c8123a"/>
<rect x="286.40" y="279.60" width="2.3" height="4.42" fill="#000" fill-opacity="0.3"/>
<line x1="287.55" y1="274.40" x2="287.55" y2="279.60" stroke="#333" stroke-width="1.0"/>
<line x1="287.55" y1="279.60" x2="287.55" y2="284.02" stroke="#000" stroke-opacity="0.6" stroke-width="0.8"/>
<rect x="290.35" y="281.60" width="2.3" height="5.90" fill="#2a4c90"/>
<rect x="290.35" y="281.60" width="2.3" height="2.21" fill="#000" fill-opacity="0.3"/>
<line x1="291.50" y1="279.00" x2="291.50" y2="281.60" stroke="#333" stroke-width="1.0"/>
<line x1="291.50" y1="281.60" x2="291.50" y2="283.81" stroke="#000" stroke-opacity="0.6" stroke-width="0.8"/>
<line x1="215.6" y1="232" x2="215.6" y2="287.5" stroke="#111" stroke-width="1"/>
<line x1="212.4" y1="287.50" x2="215.6" y2="287.50" stroke="#111" stroke-width="1"/>
<text class="t" x="210.4" y="290.45" font-size="8.2" text-anchor="end" font-weight="normal" fill="#000" >0</text>
<line x1="212.4" y1="277.06" x2="215.6" y2="277.06" stroke="#111" stroke-width="1"/>
<text class="t" x="210.4" y="280.01" font-size="8.2" text-anchor="end" font-weight="normal" fill="#000" >10</text>
<line x1="212.4" y1="266.62" x2="215.6" y2="266.62" stroke="#111" stroke-width="1"/>
<text class="t" x="210.4" y="269.57" font-size="8.2" text-anchor="end" font-weight="normal" fill="#000" >20</text>
<line x1="212.4" y1="256.18" x2="215.6" y2="256.18" stroke="#111" stroke-width="1"/>
<text class="t" x="210.4" y="259.13" font-size="8.2" text-anchor="end" font-weight="normal" fill="#000" >30</text>
<line x1="212.4" y1="245.74" x2="215.6" y2="245.74" stroke="#111" stroke-width="1"/>
<text class="t" x="210.4" y="248.69" font-size="8.2" text-anchor="end" font-weight="normal" fill="#000" >40</text>
<line x1="212.4" y1="235.30" x2="215.6" y2="235.30" stroke="#111" stroke-width="1"/>
<text class="t" x="210.4" y="238.25" font-size="8.2" text-anchor="end" font-weight="normal" fill="#000" >50</text>
<line x1="212.29999999999998" y1="287.5" x2="293" y2="287.5" stroke="#111" stroke-width="1.1"/>
<line x1="219.50" y1="287.5" x2="219.50" y2="290.5" stroke="#111" stroke-width="1"/>
<line x1="229.50" y1="287.5" x2="229.50" y2="290.5" stroke="#111" stroke-width="1"/>
<line x1="239.50" y1="287.5" x2="239.50" y2="290.5" stroke="#111" stroke-width="1"/>
<line x1="249.50" y1="287.5" x2="249.50" y2="290.5" stroke="#111" stroke-width="1"/>
<line x1="259.50" y1="287.5" x2="259.50" y2="290.5" stroke="#111" stroke-width="1"/>
<line x1="269.50" y1="287.5" x2="269.50" y2="290.5" stroke="#111" stroke-width="1"/>
<line x1="279.50" y1="287.5" x2="279.50" y2="290.5" stroke="#111" stroke-width="1"/>
<line x1="289.50" y1="287.5" x2="289.50" y2="290.5" stroke="#111" stroke-width="1"/>
<text class="t" transform="translate(219.50,301.50) scale(0.88,1)" font-size="8.6" text-anchor="middle" fill="#000">1</text>
<text class="t" transform="translate(229.50,301.50) scale(0.88,1)" font-size="8.6" text-anchor="middle" fill="#000">2</text>
<text class="t" transform="translate(239.50,301.50) scale(0.88,1)" font-size="8.6" text-anchor="middle" fill="#000">3</text>
<text class="t" transform="translate(249.50,301.50) scale(0.88,1)" font-size="8.6" text-anchor="middle" fill="#000">6</text>
<text class="t" transform="translate(259.50,301.50) scale(0.88,1)" font-size="8.6" text-anchor="middle" fill="#000">9</text>
<text class="t" transform="translate(269.50,301.50) scale(0.88,1)" font-size="8.6" text-anchor="middle" fill="#000">12</text>
<text class="t" transform="translate(279.50,301.50) scale(0.88,1)" font-size="8.6" text-anchor="middle" fill="#000">18</text>
<text class="t" transform="translate(289.50,301.50) scale(0.88,1)" font-size="8.6" text-anchor="middle" fill="#000">24</text>
<rect x="217.25" y="231.20" width="1.9" height="1.6" rx="0.5" fill="#111"/>
<rect x="219.85" y="231.20" width="1.9" height="1.6" rx="0.5" fill="#111"/>
<line x1="217.90" y1="237" x2="221.10" y2="237" stroke="#111" stroke-width="1"/>
<rect x="228.65" y="261.20" width="1.9" height="1.6" rx="0.5" fill="#111"/>
<line x1="228.00" y1="266" x2="231.20" y2="266" stroke="#111" stroke-width="1"/>
<text x="200" y="324.4" fill="#000" style="white-space:pre"><tspan font-size="9.5" y="324.4">CD56</tspan><tspan font-size="7.00" y="321.00">bright</tspan><tspan font-size="9.5" y="324.4">CD16</tspan><tspan font-size="8.75" y="321.00">+</tspan><tspan font-size="9.5" y="324.4"> NK cells</tspan></text>
<rect x="216.40" y="369.60" width="2.3" height="15.70" fill="#c8123a"/>
<rect x="216.40" y="369.60" width="2.3" height="8.16" fill="#000" fill-opacity="0.3"/>
<line x1="217.55" y1="360.00" x2="217.55" y2="369.60" stroke="#222" stroke-width="1.0"/>
<line x1="217.55" y1="369.60" x2="217.55" y2="377.76" stroke="#000" stroke-opacity="0.6" stroke-width="0.8"/>
<rect x="220.35" y="370.40" width="2.3" height="14.90" fill="#2a4c90"/>
<rect x="220.35" y="370.40" width="2.3" height="6.29" fill="#000" fill-opacity="0.3"/>
<line x1="221.50" y1="363.00" x2="221.50" y2="370.40" stroke="#222" stroke-width="1.0"/>
<line x1="221.50" y1="370.40" x2="221.50" y2="376.69" stroke="#000" stroke-opacity="0.6" stroke-width="0.8"/>
<rect x="226.40" y="373.40" width="2.3" height="11.90" fill="#c8123a"/>
<rect x="226.40" y="373.40" width="2.3" height="10.12" fill="#000" fill-opacity="0.3"/>
<line x1="227.55" y1="356.00" x2="227.55" y2="373.40" stroke="#222" stroke-width="1.0"/>
<line x1="227.55" y1="373.40" x2="227.55" y2="383.51" stroke="#000" stroke-opacity="0.6" stroke-width="0.8"/>
<rect x="230.35" y="373.00" width="2.3" height="12.30" fill="#2a4c90"/>
<rect x="230.35" y="373.00" width="2.3" height="5.61" fill="#000" fill-opacity="0.3"/>
<line x1="231.50" y1="366.40" x2="231.50" y2="373.00" stroke="#222" stroke-width="1.0"/>
<line x1="231.50" y1="373.00" x2="231.50" y2="378.61" stroke="#000" stroke-opacity="0.6" stroke-width="0.8"/>
<rect x="236.40" y="360.00" width="2.3" height="25.30" fill="#c8123a"/>
<rect x="236.40" y="360.00" width="2.3" height="14.45" fill="#000" fill-opacity="0.3"/>
<line x1="237.55" y1="343.00" x2="237.55" y2="360.00" stroke="#222" stroke-width="1.0"/>
<line x1="237.55" y1="360.00" x2="237.55" y2="374.45" stroke="#000" stroke-opacity="0.6" stroke-width="0.8"/>
<rect x="240.35" y="378.00" width="2.3" height="7.30" fill="#2a4c90"/>
<rect x="240.35" y="378.00" width="2.3" height="6.20" fill="#000" fill-opacity="0.3"/>
<line x1="241.50" y1="369.00" x2="241.50" y2="378.00" stroke="#222" stroke-width="1.0"/>
<line x1="241.50" y1="378.00" x2="241.50" y2="384.20" stroke="#000" stroke-opacity="0.6" stroke-width="0.8"/>
<rect x="246.40" y="368.00" width="2.3" height="17.30" fill="#c8123a"/>
<rect x="246.40" y="368.00" width="2.3" height="9.69" fill="#000" fill-opacity="0.3"/>
<line x1="247.55" y1="356.60" x2="247.55" y2="368.00" stroke="#222" stroke-width="1.0"/>
<line x1="247.55" y1="368.00" x2="247.55" y2="377.69" stroke="#000" stroke-opacity="0.6" stroke-width="0.8"/>
<rect x="250.35" y="371.00" width="2.3" height="14.30" fill="#2a4c90"/>
<rect x="250.35" y="371.00" width="2.3" height="12.16" fill="#000" fill-opacity="0.3"/>
<line x1="251.50" y1="355.60" x2="251.50" y2="371.00" stroke="#222" stroke-width="1.0"/>
<line x1="251.50" y1="371.00" x2="251.50" y2="383.16" stroke="#000" stroke-opacity="0.6" stroke-width="0.8"/>
<rect x="256.40" y="372.40" width="2.3" height="12.90" fill="#c8123a"/>
<rect x="256.40" y="372.40" width="2.3" height="10.97" fill="#000" fill-opacity="0.3"/>
<line x1="257.55" y1="356.00" x2="257.55" y2="372.40" stroke="#222" stroke-width="1.0"/>
<line x1="257.55" y1="372.40" x2="257.55" y2="383.37" stroke="#000" stroke-opacity="0.6" stroke-width="0.8"/>
<rect x="260.35" y="377.00" width="2.3" height="8.30" fill="#2a4c90"/>
<rect x="260.35" y="377.00" width="2.3" height="7.06" fill="#000" fill-opacity="0.3"/>
<line x1="261.50" y1="367.00" x2="261.50" y2="377.00" stroke="#222" stroke-width="1.0"/>
<line x1="261.50" y1="377.00" x2="261.50" y2="384.06" stroke="#000" stroke-opacity="0.6" stroke-width="0.8"/>
<rect x="266.40" y="375.00" width="2.3" height="10.30" fill="#c8123a"/>
<rect x="266.40" y="375.00" width="2.3" height="8.75" fill="#000" fill-opacity="0.3"/>
<line x1="267.55" y1="359.60" x2="267.55" y2="375.00" stroke="#222" stroke-width="1.0"/>
<line x1="267.55" y1="375.00" x2="267.55" y2="383.75" stroke="#000" stroke-opacity="0.6" stroke-width="0.8"/>
<rect x="270.35" y="371.60" width="2.3" height="13.70" fill="#2a4c90"/>
<rect x="270.35" y="371.60" width="2.3" height="2.72" fill="#000" fill-opacity="0.3"/>
<line x1="271.50" y1="368.40" x2="271.50" y2="371.60" stroke="#222" stroke-width="1.0"/>
<line x1="271.50" y1="371.60" x2="271.50" y2="374.32" stroke="#000" stroke-opacity="0.6" stroke-width="0.8"/>
<rect x="276.40" y="377.60" width="2.3" height="7.70" fill="#c8123a"/>
<rect x="276.40" y="377.60" width="2.3" height="6.55" fill="#000" fill-opacity="0.3"/>
<line x1="277.55" y1="368.00" x2="277.55" y2="377.60" stroke="#222" stroke-width="1.0"/>
<line x1="277.55" y1="377.60" x2="277.55" y2="384.15" stroke="#000" stroke-opacity="0.6" stroke-width="0.8"/>
<rect x="280.35" y="373.00" width="2.3" height="12.30" fill="#2a4c90"/>
<rect x="280.35" y="373.00" width="2.3" height="2.04" fill="#000" fill-opacity="0.3"/>
<line x1="281.50" y1="370.60" x2="281.50" y2="373.00" stroke="#222" stroke-width="1.0"/>
<line x1="281.50" y1="373.00" x2="281.50" y2="375.04" stroke="#000" stroke-opacity="0.6" stroke-width="0.8"/>
<rect x="286.40" y="373.40" width="2.3" height="11.90" fill="#c8123a"/>
<rect x="286.40" y="373.40" width="2.3" height="4.93" fill="#000" fill-opacity="0.3"/>
<line x1="287.55" y1="367.60" x2="287.55" y2="373.40" stroke="#222" stroke-width="1.0"/>
<line x1="287.55" y1="373.40" x2="287.55" y2="378.33" stroke="#000" stroke-opacity="0.6" stroke-width="0.8"/>
<rect x="290.35" y="378.40" width="2.3" height="6.90" fill="#2a4c90"/>
<rect x="290.35" y="378.40" width="2.3" height="2.04" fill="#000" fill-opacity="0.3"/>
<line x1="291.50" y1="376.00" x2="291.50" y2="378.40" stroke="#222" stroke-width="1.0"/>
<line x1="291.50" y1="378.40" x2="291.50" y2="380.44" stroke="#000" stroke-opacity="0.6" stroke-width="0.8"/>
<line x1="215.6" y1="332" x2="215.6" y2="385.3" stroke="#111" stroke-width="1"/>
<line x1="212.4" y1="385.30" x2="215.6" y2="385.30" stroke="#111" stroke-width="1"/>
<text class="t" x="210.4" y="388.25" font-size="8.2" text-anchor="end" font-weight="normal" fill="#000" >0</text>
<line x1="212.4" y1="372.30" x2="215.6" y2="372.30" stroke="#111" stroke-width="1"/>
<text class="t" x="210.4" y="375.25" font-size="8.2" text-anchor="end" font-weight="normal" fill="#000" >5</text>
<line x1="212.4" y1="359.30" x2="215.6" y2="359.30" stroke="#111" stroke-width="1"/>
<text class="t" x="210.4" y="362.25" font-size="8.2" text-anchor="end" font-weight="normal" fill="#000" >10</text>
<line x1="212.4" y1="346.30" x2="215.6" y2="346.30" stroke="#111" stroke-width="1"/>
<text class="t" x="210.4" y="349.25" font-size="8.2" text-anchor="end" font-weight="normal" fill="#000" >15</text>
<line x1="212.4" y1="333.30" x2="215.6" y2="333.30" stroke="#111" stroke-width="1"/>
<text class="t" x="210.4" y="336.25" font-size="8.2" text-anchor="end" font-weight="normal" fill="#000" >20</text>
<line x1="212.29999999999998" y1="385.3" x2="293.5" y2="385.3" stroke="#111" stroke-width="1.1"/>
<line x1="219.50" y1="385.3" x2="219.50" y2="388.3" stroke="#111" stroke-width="1"/>
<line x1="229.50" y1="385.3" x2="229.50" y2="388.3" stroke="#111" stroke-width="1"/>
<line x1="239.50" y1="385.3" x2="239.50" y2="388.3" stroke="#111" stroke-width="1"/>
<line x1="249.50" y1="385.3" x2="249.50" y2="388.3" stroke="#111" stroke-width="1"/>
<line x1="259.50" y1="385.3" x2="259.50" y2="388.3" stroke="#111" stroke-width="1"/>
<line x1="269.50" y1="385.3" x2="269.50" y2="388.3" stroke="#111" stroke-width="1"/>
<line x1="279.50" y1="385.3" x2="279.50" y2="388.3" stroke="#111" stroke-width="1"/>
<line x1="289.50" y1="385.3" x2="289.50" y2="388.3" stroke="#111" stroke-width="1"/>
<text class="t" transform="translate(219.50,399.00) scale(0.88,1)" font-size="8.6" text-anchor="middle" fill="#000">1</text>
<text class="t" transform="translate(229.50,399.00) scale(0.88,1)" font-size="8.6" text-anchor="middle" fill="#000">2</text>
<text class="t" transform="translate(239.50,399.00) scale(0.88,1)" font-size="8.6" text-anchor="middle" fill="#000">3</text>
<text class="t" transform="translate(249.50,399.00) scale(0.88,1)" font-size="8.6" text-anchor="middle" fill="#000">6</text>
<text class="t" transform="translate(259.50,399.00) scale(0.88,1)" font-size="8.6" text-anchor="middle" fill="#000">9</text>
<text class="t" transform="translate(269.50,399.00) scale(0.88,1)" font-size="8.6" text-anchor="middle" fill="#000">12</text>
<text class="t" transform="translate(279.50,399.00) scale(0.88,1)" font-size="8.6" text-anchor="middle" fill="#000">18</text>
<text class="t" transform="translate(289.50,399.00) scale(0.88,1)" font-size="8.6" text-anchor="middle" fill="#000">24</text>
<rect x="234.35" y="335.60" width="1.9" height="1.6" rx="0.5" fill="#111"/>
<rect x="236.95" y="335.60" width="1.9" height="1.6" rx="0.5" fill="#111"/>
<rect x="239.55" y="335.60" width="1.9" height="1.6" rx="0.5" fill="#111"/>
<rect x="242.15" y="335.60" width="1.9" height="1.6" rx="0.5" fill="#111"/>
<line x1="237.60" y1="340" x2="240.80" y2="340" stroke="#111" stroke-width="1"/>
<rect x="287.55" y="360.20" width="1.9" height="1.6" rx="0.5" fill="#111"/>
<rect x="290.15" y="360.20" width="1.9" height="1.6" rx="0.5" fill="#111"/>
<line x1="288.20" y1="365" x2="291.40" y2="365" stroke="#111" stroke-width="1"/>
<line x1="366.5" y1="30.2" x2="366.5" y2="150.7" stroke="#333" stroke-width="1.1"/>
<line x1="366.5" y1="181.4" x2="366.5" y2="388.8" stroke="#333" stroke-width="1.1"/>
<g transform="translate(367.2,166.1) rotate(-90) scale(0.76,1)"><text x="0" y="3.24" font-size="9" font-weight="normal" text-anchor="middle" fill="#000" style="stroke:#000;stroke-width:0.4px">Cells/µL</text></g>
<text x="380.6" y="31" fill="#000" style="white-space:pre"><tspan font-size="9.5" y="31">CD56</tspan><tspan font-size="7.00" y="27.60">bright</tspan><tspan font-size="9.5" y="31">CD16</tspan><tspan font-size="5.95" y="27.60">-</tspan><tspan font-size="9.5" y="31"> NK cells</tspan></text>
<line x1="394.8" y1="38" x2="394.8" y2="91.8" stroke="#111" stroke-width="1"/>
<line x1="391.6" y1="91.80" x2="394.8" y2="91.80" stroke="#111" stroke-width="1"/>
<text class="t" x="388.6" y="94.75" font-size="8.2" text-anchor="end" font-weight="normal" fill="#000" >0</text>
<line x1="391.6" y1="74.50" x2="394.8" y2="74.50" stroke="#111" stroke-width="1"/>
<text class="t" x="388.6" y="77.45" font-size="8.2" text-anchor="end" font-weight="normal" fill="#000" >10</text>
<line x1="391.6" y1="57.20" x2="394.8" y2="57.20" stroke="#111" stroke-width="1"/>
<text class="t" x="388.6" y="60.15" font-size="8.2" text-anchor="end" font-weight="normal" fill="#000" >20</text>
<line x1="391.6" y1="39.90" x2="394.8" y2="39.90" stroke="#111" stroke-width="1"/>
<text class="t" x="388.6" y="42.85" font-size="8.2" text-anchor="end" font-weight="normal" fill="#000" >30</text>
<line x1="391" y1="91.8" x2="472.5" y2="91.8" stroke="#111" stroke-width="1.1"/>
<line x1="399.00" y1="91.8" x2="399.00" y2="94.8" stroke="#111" stroke-width="1"/>
<line x1="408.75" y1="91.8" x2="408.75" y2="94.8" stroke="#111" stroke-width="1"/>
<line x1="418.50" y1="91.8" x2="418.50" y2="94.8" stroke="#111" stroke-width="1"/>
<line x1="428.25" y1="91.8" x2="428.25" y2="94.8" stroke="#111" stroke-width="1"/>
<line x1="438.00" y1="91.8" x2="438.00" y2="94.8" stroke="#111" stroke-width="1"/>
<line x1="447.75" y1="91.8" x2="447.75" y2="94.8" stroke="#111" stroke-width="1"/>
<line x1="457.50" y1="91.8" x2="457.50" y2="94.8" stroke="#111" stroke-width="1"/>
<line x1="467.25" y1="91.8" x2="467.25" y2="94.8" stroke="#111" stroke-width="1"/>
<text class="t" transform="translate(399.00,105.50) scale(0.88,1)" font-size="8.6" text-anchor="middle" fill="#000">1</text>
<text class="t" transform="translate(408.75,105.50) scale(0.88,1)" font-size="8.6" text-anchor="middle" fill="#000">2</text>
<text class="t" transform="translate(418.50,105.50) scale(0.88,1)" font-size="8.6" text-anchor="middle" fill="#000">3</text>
<text class="t" transform="translate(428.25,105.50) scale(0.88,1)" font-size="8.6" text-anchor="middle" fill="#000">6</text>
<text class="t" transform="translate(438.00,105.50) scale(0.88,1)" font-size="8.6" text-anchor="middle" fill="#000">9</text>
<text class="t" transform="translate(447.75,105.50) scale(0.88,1)" font-size="8.6" text-anchor="middle" fill="#000">12</text>
<text class="t" transform="translate(457.50,105.50) scale(0.88,1)" font-size="8.6" text-anchor="middle" fill="#000">18</text>
<text class="t" transform="translate(467.25,105.50) scale(0.88,1)" font-size="8.6" text-anchor="middle" fill="#000">24</text>
<polyline points="399.00,75.00 408.75,69.60 418.50,73.00 428.25,77.00 438.00,79.00 447.75,81.20 457.50,81.60 467.25,85.40" fill="none" stroke="#5574ab" stroke-width="1.2"/>
<polyline points="399.00,78.60 408.75,51.00 418.50,61.60 428.25,48.40 438.00,69.40 447.75,69.20 457.50,73.60 467.25,75.00" fill="none" stroke="#b3193a" stroke-width="1.2"/>
<rect x="396.90" y="72.90" width="4.2" height="4.2" fill="#21417f"/>
<rect x="406.65" y="67.50" width="4.2" height="4.2" fill="#21417f"/>
<rect x="416.40" y="70.90" width="4.2" height="4.2" fill="#21417f"/>
<rect x="426.15" y="74.90" width="4.2" height="4.2" fill="#21417f"/>
<rect x="435.90" y="76.90" width="4.2" height="4.2" fill="#21417f"/>
<rect x="445.65" y="79.10" width="4.2" height="4.2" fill="#21417f"/>
<rect x="455.40" y="79.50" width="4.2" height="4.2" fill="#21417f"/>
<rect x="465.15" y="83.30" width="4.2" height="4.2" fill="#21417f"/>
<circle cx="399.00" cy="78.60" r="2.3" fill="#a80f2e"/>
<circle cx="408.75" cy="51.00" r="2.3" fill="#a80f2e"/>
<circle cx="418.50" cy="61.60" r="2.3" fill="#a80f2e"/>
<circle cx="428.25" cy="48.40" r="2.3" fill="#a80f2e"/>
<circle cx="438.00" cy="69.40" r="2.3" fill="#a80f2e"/>
<circle cx="447.75" cy="69.20" r="2.3" fill="#a80f2e"/>
<circle cx="457.50" cy="73.60" r="2.3" fill="#a80f2e"/>
<circle cx="467.25" cy="75.00" r="2.3" fill="#a80f2e"/>
<rect x="406.35" y="44.80" width="1.9" height="1.6" rx="0.5" fill="#111"/>
<rect x="408.95" y="44.80" width="1.9" height="1.6" rx="0.5" fill="#111"/>
<rect x="416.15" y="52.20" width="1.9" height="1.6" rx="0.5" fill="#111"/>
<rect x="418.75" y="52.20" width="1.9" height="1.6" rx="0.5" fill="#111"/>
<rect x="425.95" y="42.20" width="1.9" height="1.6" rx="0.5" fill="#111"/>
<rect x="428.55" y="42.20" width="1.9" height="1.6" rx="0.5" fill="#111"/>
<line x1="475.4" y1="40.6" x2="491" y2="40.6" stroke="#b3193a" stroke-width="1.1"/>
<circle cx="483.2" cy="40.6" r="2.1" fill="#a80f2e"/>
<text x="494" y="43.30" font-size="7.5" text-anchor="start" font-weight="normal" fill="#222" >Haplo</text>
<line x1="475.4" y1="52" x2="491" y2="52" stroke="#5574ab" stroke-width="1.1"/>
<rect x="481.2" y="50" width="4" height="4" fill="#21417f"/>
<text x="494" y="54.70" font-size="7.5" text-anchor="start" font-weight="normal" fill="#222" >MD</text>
<text x="382.4" y="129" fill="#000" style="white-space:pre"><tspan font-size="9.5" y="129">CD56</tspan><tspan font-size="7.00" y="125.60">dim</tspan><tspan font-size="9.5" y="129">CD16</tspan><tspan font-size="8.75" y="125.60">+</tspan><tspan font-size="9.5" y="129"> NK cells</tspan></text>
<line x1="394.8" y1="135" x2="394.8" y2="189.7" stroke="#111" stroke-width="1"/>
<line x1="391.6" y1="189.70" x2="394.8" y2="189.70" stroke="#111" stroke-width="1"/>
<text class="t" x="388.6" y="192.65" font-size="8.2" text-anchor="end" font-weight="normal" fill="#000" >0</text>
<line x1="391.6" y1="176.70" x2="394.8" y2="176.70" stroke="#111" stroke-width="1"/>
<text class="t" x="388.6" y="179.65" font-size="8.2" text-anchor="end" font-weight="normal" fill="#000" >50</text>
<line x1="391.6" y1="163.70" x2="394.8" y2="163.70" stroke="#111" stroke-width="1"/>
<text class="t" x="388.6" y="166.65" font-size="8.2" text-anchor="end" font-weight="normal" fill="#000" >100</text>
<line x1="391.6" y1="150.70" x2="394.8" y2="150.70" stroke="#111" stroke-width="1"/>
<text class="t" x="388.6" y="153.65" font-size="8.2" text-anchor="end" font-weight="normal" fill="#000" >150</text>
<line x1="391.6" y1="137.70" x2="394.8" y2="137.70" stroke="#111" stroke-width="1"/>
<text class="t" x="388.6" y="140.65" font-size="8.2" text-anchor="end" font-weight="normal" fill="#000" >200</text>
<line x1="391" y1="189.7" x2="472.5" y2="189.7" stroke="#111" stroke-width="1.1"/>
<line x1="399.00" y1="189.7" x2="399.00" y2="192.7" stroke="#111" stroke-width="1"/>
<line x1="408.75" y1="189.7" x2="408.75" y2="192.7" stroke="#111" stroke-width="1"/>
<line x1="418.50" y1="189.7" x2="418.50" y2="192.7" stroke="#111" stroke-width="1"/>
<line x1="428.25" y1="189.7" x2="428.25" y2="192.7" stroke="#111" stroke-width="1"/>
<line x1="438.00" y1="189.7" x2="438.00" y2="192.7" stroke="#111" stroke-width="1"/>
<line x1="447.75" y1="189.7" x2="447.75" y2="192.7" stroke="#111" stroke-width="1"/>
<line x1="457.50" y1="189.7" x2="457.50" y2="192.7" stroke="#111" stroke-width="1"/>
<line x1="467.25" y1="189.7" x2="467.25" y2="192.7" stroke="#111" stroke-width="1"/>
<text class="t" transform="translate(399.00,202.50) scale(0.88,1)" font-size="8.6" text-anchor="middle" fill="#000">1</text>
<text class="t" transform="translate(408.75,202.50) scale(0.88,1)" font-size="8.6" text-anchor="middle" fill="#000">2</text>
<text class="t" transform="translate(418.50,202.50) scale(0.88,1)" font-size="8.6" text-anchor="middle" fill="#000">3</text>
<text class="t" transform="translate(428.25,202.50) scale(0.88,1)" font-size="8.6" text-anchor="middle" fill="#000">6</text>
<text class="t" transform="translate(438.00,202.50) scale(0.88,1)" font-size="8.6" text-anchor="middle" fill="#000">9</text>
<text class="t" transform="translate(447.75,202.50) scale(0.88,1)" font-size="8.6" text-anchor="middle" fill="#000">12</text>
<text class="t" transform="translate(457.50,202.50) scale(0.88,1)" font-size="8.6" text-anchor="middle" fill="#000">18</text>
<text class="t" transform="translate(467.25,202.50) scale(0.88,1)" font-size="8.6" text-anchor="middle" fill="#000">24</text>
<polyline points="399.00,166.00 408.75,155.00 418.50,147.00 428.25,164.60 438.00,163.20 447.75,164.00 457.50,159.20 467.25,145.00" fill="none" stroke="#5574ab" stroke-width="1.2"/>
<polyline points="399.00,185.60 408.75,170.00 418.50,168.40 428.25,161.40 438.00,157.50 447.75,165.40 457.50,156.60 467.25,160.60" fill="none" stroke="#b3193a" stroke-width="1.2"/>
<rect x="396.90" y="163.90" width="4.2" height="4.2" fill="#21417f"/>
<rect x="406.65" y="152.90" width="4.2" height="4.2" fill="#21417f"/>
<rect x="416.40" y="144.90" width="4.2" height="4.2" fill="#21417f"/>
<rect x="426.15" y="162.50" width="4.2" height="4.2" fill="#21417f"/>
<rect x="435.90" y="161.10" width="4.2" height="4.2" fill="#21417f"/>
<rect x="445.65" y="161.90" width="4.2" height="4.2" fill="#21417f"/>
<rect x="455.40" y="157.10" width="4.2" height="4.2" fill="#21417f"/>
<rect x="465.15" y="142.90" width="4.2" height="4.2" fill="#21417f"/>
<circle cx="399.00" cy="185.60" r="2.3" fill="#a80f2e"/>
<circle cx="408.75" cy="170.00" r="2.3" fill="#a80f2e"/>
<circle cx="418.50" cy="168.40" r="2.3" fill="#a80f2e"/>
<circle cx="428.25" cy="161.40" r="2.3" fill="#a80f2e"/>
<circle cx="438.00" cy="157.50" r="2.3" fill="#a80f2e"/>
<circle cx="447.75" cy="165.40" r="2.3" fill="#a80f2e"/>
<circle cx="457.50" cy="156.60" r="2.3" fill="#a80f2e"/>
<circle cx="467.25" cy="160.60" r="2.3" fill="#a80f2e"/>
<rect x="395.65" y="157.20" width="1.9" height="1.6" rx="0.5" fill="#111"/>
<rect x="398.25" y="157.20" width="1.9" height="1.6" rx="0.5" fill="#111"/>
<rect x="400.85" y="157.20" width="1.9" height="1.6" rx="0.5" fill="#111"/>
<rect x="406.35" y="147.60" width="1.9" height="1.6" rx="0.5" fill="#111"/>
<rect x="408.95" y="147.60" width="1.9" height="1.6" rx="0.5" fill="#111"/>
<rect x="417.45" y="140.20" width="1.9" height="1.6" rx="0.5" fill="#111"/>
<text x="384" y="227" fill="#000" style="white-space:pre"><tspan font-size="9.5" y="227">CD56</tspan><tspan font-size="7.00" y="223.60">dim</tspan><tspan font-size="9.5" y="227">CD16</tspan><tspan font-size="5.95" y="223.60">-</tspan><tspan font-size="9.5" y="227"> NK cells</tspan></text>
<line x1="394.8" y1="233" x2="394.8" y2="287.5" stroke="#111" stroke-width="1"/>
<line x1="391.6" y1="287.50" x2="394.8" y2="287.50" stroke="#111" stroke-width="1"/>
<text class="t" x="388.6" y="290.45" font-size="8.2" text-anchor="end" font-weight="normal" fill="#000" >0</text>
<line x1="391.6" y1="274.50" x2="394.8" y2="274.50" stroke="#111" stroke-width="1"/>
<text class="t" x="388.6" y="277.45" font-size="8.2" text-anchor="end" font-weight="normal" fill="#000" >5</text>
<line x1="391.6" y1="261.50" x2="394.8" y2="261.50" stroke="#111" stroke-width="1"/>
<text class="t" x="388.6" y="264.45" font-size="8.2" text-anchor="end" font-weight="normal" fill="#000" >10</text>
<line x1="391.6" y1="248.50" x2="394.8" y2="248.50" stroke="#111" stroke-width="1"/>
<text class="t" x="388.6" y="251.45" font-size="8.2" text-anchor="end" font-weight="normal" fill="#000" >15</text>
<line x1="391.6" y1="235.50" x2="394.8" y2="235.50" stroke="#111" stroke-width="1"/>
<text class="t" x="388.6" y="238.45" font-size="8.2" text-anchor="end" font-weight="normal" fill="#000" >20</text>
<line x1="391" y1="287.5" x2="472.5" y2="287.5" stroke="#111" stroke-width="1.1"/>
<line x1="399.00" y1="287.5" x2="399.00" y2="290.5" stroke="#111" stroke-width="1"/>
<line x1="408.75" y1="287.5" x2="408.75" y2="290.5" stroke="#111" stroke-width="1"/>
<line x1="418.50" y1="287.5" x2="418.50" y2="290.5" stroke="#111" stroke-width="1"/>
<line x1="428.25" y1="287.5" x2="428.25" y2="290.5" stroke="#111" stroke-width="1"/>
<line x1="438.00" y1="287.5" x2="438.00" y2="290.5" stroke="#111" stroke-width="1"/>
<line x1="447.75" y1="287.5" x2="447.75" y2="290.5" stroke="#111" stroke-width="1"/>
<line x1="457.50" y1="287.5" x2="457.50" y2="290.5" stroke="#111" stroke-width="1"/>
<line x1="467.25" y1="287.5" x2="467.25" y2="290.5" stroke="#111" stroke-width="1"/>
<text class="t" transform="translate(399.00,300.90) scale(0.88,1)" font-size="8.6" text-anchor="middle" fill="#000">1</text>
<text class="t" transform="translate(408.75,300.90) scale(0.88,1)" font-size="8.6" text-anchor="middle" fill="#000">2</text>
<text class="t" transform="translate(418.50,300.90) scale(0.88,1)" font-size="8.6" text-anchor="middle" fill="#000">3</text>
<text class="t" transform="translate(428.25,300.90) scale(0.88,1)" font-size="8.6" text-anchor="middle" fill="#000">6</text>
<text class="t" transform="translate(438.00,300.90) scale(0.88,1)" font-size="8.6" text-anchor="middle" fill="#000">9</text>
<text class="t" transform="translate(447.75,300.90) scale(0.88,1)" font-size="8.6" text-anchor="middle" fill="#000">12</text>
<text class="t" transform="translate(457.50,300.90) scale(0.88,1)" font-size="8.6" text-anchor="middle" fill="#000">18</text>
<text class="t" transform="translate(467.25,300.90) scale(0.88,1)" font-size="8.6" text-anchor="middle" fill="#000">24</text>
<polyline points="399.00,251.40 408.75,253.00 418.50,263.40 428.25,271.00 438.00,264.00 447.75,269.00 457.50,263.50 467.25,270.60" fill="none" stroke="#5574ab" stroke-width="1.2"/>
<polyline points="399.00,254.60 408.75,247.60 418.50,261.00 428.25,257.60 438.00,257.00 447.75,259.60 457.50,254.00 467.25,265.40" fill="none" stroke="#b3193a" stroke-width="1.2"/>
<rect x="396.90" y="249.30" width="4.2" height="4.2" fill="#21417f"/>
<rect x="406.65" y="250.90" width="4.2" height="4.2" fill="#21417f"/>
<rect x="416.40" y="261.30" width="4.2" height="4.2" fill="#21417f"/>
<rect x="426.15" y="268.90" width="4.2" height="4.2" fill="#21417f"/>
<rect x="435.90" y="261.90" width="4.2" height="4.2" fill="#21417f"/>
<rect x="445.65" y="266.90" width="4.2" height="4.2" fill="#21417f"/>
<rect x="455.40" y="261.40" width="4.2" height="4.2" fill="#21417f"/>
<rect x="465.15" y="268.50" width="4.2" height="4.2" fill="#21417f"/>
<circle cx="399.00" cy="254.60" r="2.3" fill="#a80f2e"/>
<circle cx="408.75" cy="247.60" r="2.3" fill="#a80f2e"/>
<circle cx="418.50" cy="261.00" r="2.3" fill="#a80f2e"/>
<circle cx="428.25" cy="257.60" r="2.3" fill="#a80f2e"/>
<circle cx="438.00" cy="257.00" r="2.3" fill="#a80f2e"/>
<circle cx="447.75" cy="259.60" r="2.3" fill="#a80f2e"/>
<circle cx="457.50" cy="254.00" r="2.3" fill="#a80f2e"/>
<circle cx="467.25" cy="265.40" r="2.3" fill="#a80f2e"/>
<rect x="427.25" y="250.20" width="1.9" height="1.6" rx="0.5" fill="#111"/>
<text x="379.4" y="324.4" fill="#000" style="white-space:pre"><tspan font-size="9.5" y="324.4">CD56</tspan><tspan font-size="7.00" y="321.00">bright</tspan><tspan font-size="9.5" y="324.4">CD16</tspan><tspan font-size="8.75" y="321.00">+</tspan><tspan font-size="9.5" y="324.4"> NK cells</tspan></text>
<line x1="394.8" y1="331" x2="394.8" y2="385.4" stroke="#111" stroke-width="1"/>
<line x1="391.6" y1="385.40" x2="394.8" y2="385.40" stroke="#111" stroke-width="1"/>
<text class="t" x="388.6" y="388.35" font-size="8.2" text-anchor="end" font-weight="normal" fill="#000" >0</text>
<line x1="391.6" y1="367.90" x2="394.8" y2="367.90" stroke="#111" stroke-width="1"/>
<text class="t" x="388.6" y="370.85" font-size="8.2" text-anchor="end" font-weight="normal" fill="#000" >5</text>
<line x1="391.6" y1="350.40" x2="394.8" y2="350.40" stroke="#111" stroke-width="1"/>
<text class="t" x="388.6" y="353.35" font-size="8.2" text-anchor="end" font-weight="normal" fill="#000" >10</text>
<line x1="391.6" y1="332.90" x2="394.8" y2="332.90" stroke="#111" stroke-width="1"/>
<text class="t" x="388.6" y="335.85" font-size="8.2" text-anchor="end" font-weight="normal" fill="#000" >15</text>
<line x1="391" y1="385.4" x2="472.5" y2="385.4" stroke="#111" stroke-width="1.1"/>
<line x1="399.00" y1="385.4" x2="399.00" y2="388.4" stroke="#111" stroke-width="1"/>
<line x1="408.75" y1="385.4" x2="408.75" y2="388.4" stroke="#111" stroke-width="1"/>
<line x1="418.50" y1="385.4" x2="418.50" y2="388.4" stroke="#111" stroke-width="1"/>
<line x1="428.25" y1="385.4" x2="428.25" y2="388.4" stroke="#111" stroke-width="1"/>
<line x1="438.00" y1="385.4" x2="438.00" y2="388.4" stroke="#111" stroke-width="1"/>
<line x1="447.75" y1="385.4" x2="447.75" y2="388.4" stroke="#111" stroke-width="1"/>
<line x1="457.50" y1="385.4" x2="457.50" y2="388.4" stroke="#111" stroke-width="1"/>
<line x1="467.25" y1="385.4" x2="467.25" y2="388.4" stroke="#111" stroke-width="1"/>
<text class="t" transform="translate(399.00,398.90) scale(0.88,1)" font-size="8.6" text-anchor="middle" fill="#000">1</text>
<text class="t" transform="translate(408.75,398.90) scale(0.88,1)" font-size="8.6" text-anchor="middle" fill="#000">2</text>
<text class="t" transform="translate(418.50,398.90) scale(0.88,1)" font-size="8.6" text-anchor="middle" fill="#000">3</text>
<text class="t" transform="translate(428.25,398.90) scale(0.88,1)" font-size="8.6" text-anchor="middle" fill="#000">6</text>
<text class="t" transform="translate(438.00,398.90) scale(0.88,1)" font-size="8.6" text-anchor="middle" fill="#000">9</text>
<text class="t" transform="translate(447.75,398.90) scale(0.88,1)" font-size="8.6" text-anchor="middle" fill="#000">12</text>
<text class="t" transform="translate(457.50,398.90) scale(0.88,1)" font-size="8.6" text-anchor="middle" fill="#000">18</text>
<text class="t" transform="translate(467.25,398.90) scale(0.88,1)" font-size="8.6" text-anchor="middle" fill="#000">24</text>
<polyline points="399.00,366.00 408.75,357.00 418.50,360.00 428.25,362.40 438.00,365.00 447.75,371.00 457.50,368.60 467.25,369.40" fill="none" stroke="#5574ab" stroke-width="1.2"/>
<polyline points="399.00,373.60 408.75,352.60 418.50,339.00 428.25,342.00 438.00,355.40 447.75,367.60 457.50,367.40 467.25,365.60" fill="none" stroke="#b3193a" stroke-width="1.2"/>
<rect x="396.90" y="363.90" width="4.2" height="4.2" fill="#21417f"/>
<rect x="406.65" y="354.90" width="4.2" height="4.2" fill="#21417f"/>
<rect x="416.40" y="357.90" width="4.2" height="4.2" fill="#21417f"/>
<rect x="426.15" y="360.30" width="4.2" height="4.2" fill="#21417f"/>
<rect x="435.90" y="362.90" width="4.2" height="4.2" fill="#21417f"/>
<rect x="445.65" y="368.90" width="4.2" height="4.2" fill="#21417f"/>
<rect x="455.40" y="366.50" width="4.2" height="4.2" fill="#21417f"/>
<rect x="465.15" y="367.30" width="4.2" height="4.2" fill="#21417f"/>
<circle cx="399.00" cy="373.60" r="2.3" fill="#a80f2e"/>
<circle cx="408.75" cy="352.60" r="2.3" fill="#a80f2e"/>
<circle cx="418.50" cy="339.00" r="2.3" fill="#a80f2e"/>
<circle cx="428.25" cy="342.00" r="2.3" fill="#a80f2e"/>
<circle cx="438.00" cy="355.40" r="2.3" fill="#a80f2e"/>
<circle cx="447.75" cy="367.60" r="2.3" fill="#a80f2e"/>
<circle cx="457.50" cy="367.40" r="2.3" fill="#a80f2e"/>
<circle cx="467.25" cy="365.60" r="2.3" fill="#a80f2e"/>
<rect x="416.15" y="331.20" width="1.9" height="1.6" rx="0.5" fill="#111"/>
<rect x="418.75" y="331.20" width="1.9" height="1.6" rx="0.5" fill="#111"/>
<rect x="427.25" y="336.20" width="1.9" height="1.6" rx="0.5" fill="#111"/>
</svg>
</body></html>
